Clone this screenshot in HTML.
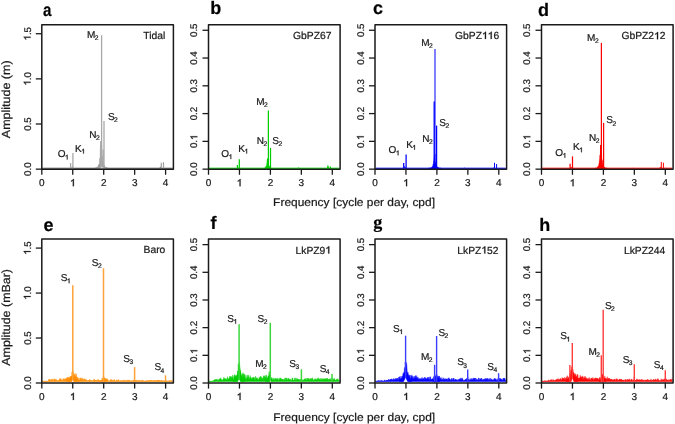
<!DOCTYPE html>
<html><head><meta charset="utf-8"><style>
html,body{margin:0;padding:0;background:#fff;}
body{width:675px;height:424px;overflow:hidden;}
svg{display:block;will-change:transform;}

</style></head><body>
<svg width="675" height="424" viewBox="0 0 675 424" font-family='"Liberation Sans", sans-serif' text-rendering="geometricPrecision">
<style>text{stroke:#1a1a1a;stroke-width:0.22px;} path.g1{stroke:#1a1a1a;stroke-width:0.22px;}</style>
<rect width="675" height="424" fill="#fff"/>
<path d="M42.40,168.40 L42.40,168.00 L42.90,168.00 L43.40,168.00 L43.90,168.00 L44.40,168.00 L44.90,168.00 L45.40,168.00 L45.90,168.00 L46.40,168.00 L46.90,168.00 L47.40,168.00 L47.90,168.00 L48.40,168.00 L48.90,168.00 L49.40,168.00 L49.90,168.00 L50.40,168.00 L50.90,168.00 L51.40,168.00 L51.90,168.00 L52.40,168.00 L52.90,168.00 L53.40,168.00 L53.90,168.00 L54.40,168.00 L54.90,168.00 L55.40,168.00 L55.90,168.00 L56.40,168.00 L56.90,168.00 L57.40,168.00 L57.90,168.00 L58.40,168.00 L58.90,168.00 L59.40,168.00 L59.90,168.00 L60.40,168.00 L60.90,168.00 L61.40,168.00 L61.90,168.00 L62.40,168.00 L62.90,168.00 L63.40,168.00 L63.90,168.00 L64.40,168.00 L64.90,168.00 L65.40,168.00 L65.90,168.00 L66.40,168.00 L66.90,168.00 L67.40,168.00 L67.90,168.00 L68.40,168.00 L68.90,168.00 L69.40,168.00 L69.90,168.00 L70.40,167.47 L70.90,168.00 L71.40,168.00 L71.90,167.80 L72.40,166.30 L72.90,168.00 L73.40,168.00 L73.90,168.00 L74.40,168.00 L74.90,168.00 L75.40,168.00 L75.90,168.00 L76.40,168.00 L76.90,168.00 L77.40,168.00 L77.90,168.00 L78.40,168.00 L78.90,168.00 L79.40,168.00 L79.90,168.00 L80.40,168.00 L80.90,168.00 L81.40,168.00 L81.90,168.00 L82.40,168.00 L82.90,168.00 L83.40,168.00 L83.90,168.00 L84.40,168.00 L84.90,168.00 L85.40,168.00 L85.90,168.00 L86.40,168.00 L86.90,168.00 L87.40,168.00 L87.90,168.00 L88.40,168.00 L88.90,168.00 L89.40,168.00 L89.90,168.00 L90.40,168.00 L90.90,168.00 L91.40,168.00 L91.90,168.00 L92.40,168.00 L92.90,168.00 L93.40,168.00 L93.90,168.00 L94.40,168.00 L94.90,168.00 L95.40,168.00 L95.90,168.00 L96.40,168.00 L96.90,168.00 L97.40,168.00 L97.90,168.00 L98.40,168.00 L98.90,168.00 L99.40,168.00 L99.90,168.00 L100.40,168.00 L100.90,168.00 L101.40,168.00 L101.90,168.00 L102.40,168.00 L102.90,168.00 L103.40,168.00 L103.90,168.00 L104.40,168.00 L104.90,168.00 L105.40,168.00 L105.90,168.00 L106.40,168.00 L106.90,168.00 L107.40,168.00 L107.90,168.00 L108.40,168.00 L108.90,168.00 L109.40,168.00 L109.90,168.00 L110.40,168.00 L110.90,168.00 L111.40,168.00 L111.90,168.00 L112.40,168.00 L112.90,168.00 L113.40,168.00 L113.90,168.00 L114.40,168.00 L114.90,168.00 L115.40,168.00 L115.90,168.00 L116.40,168.00 L116.90,168.00 L117.40,168.00 L117.90,168.00 L118.40,168.00 L118.90,168.00 L119.40,168.00 L119.90,168.00 L120.40,168.00 L120.90,168.00 L121.40,168.00 L121.90,168.00 L122.40,168.00 L122.90,168.00 L123.40,168.00 L123.90,168.00 L124.40,168.00 L124.90,168.00 L125.40,168.00 L125.90,168.00 L126.40,168.00 L126.90,168.00 L127.40,168.00 L127.90,168.00 L128.40,168.00 L128.90,168.00 L129.40,168.00 L129.90,168.00 L130.40,168.00 L130.90,168.00 L131.40,168.00 L131.90,168.00 L132.40,168.00 L132.90,168.00 L133.40,168.00 L133.90,168.00 L134.40,168.00 L134.90,168.00 L135.40,168.00 L135.90,168.00 L136.40,168.00 L136.90,168.00 L137.40,168.00 L137.90,168.00 L138.40,168.00 L138.90,168.00 L139.40,168.00 L139.90,168.00 L140.40,168.00 L140.90,168.00 L141.40,168.00 L141.90,168.00 L142.40,168.00 L142.90,168.00 L143.40,168.00 L143.90,168.00 L144.40,168.00 L144.90,168.00 L145.40,168.00 L145.90,168.00 L146.40,168.00 L146.90,168.00 L147.40,168.00 L147.90,168.00 L148.40,168.00 L148.90,168.00 L149.40,168.00 L149.90,168.00 L150.40,168.00 L150.90,168.00 L151.40,168.00 L151.90,168.00 L152.40,168.00 L152.90,168.00 L153.40,168.00 L153.90,168.00 L154.40,168.00 L154.90,168.00 L155.40,168.00 L155.90,168.00 L156.40,168.00 L156.90,168.00 L157.40,168.00 L157.90,168.00 L158.40,168.00 L158.90,168.00 L159.40,168.00 L159.90,168.00 L160.40,166.79 L160.90,167.88 L161.40,168.00 L161.90,168.00 L162.40,168.00 L162.90,168.00 L163.40,168.00 L163.90,168.00 L164.40,168.00 L164.90,168.00 L165.40,168.00 L165.90,168.00 L166.40,168.00 L166.90,168.00 L167.40,168.00 L167.90,168.00 L168.40,168.00 L168.90,168.00 L169.40,168.00 L169.90,168.00 L170.40,168.00 L170.90,168.00 L171.40,168.00 L171.90,168.00 L172.40,168.00 L172.40,168.40 Z" fill="#6e6e6e" stroke="#6e6e6e" stroke-width="0.6" stroke-linejoin="round" opacity="1.0"/>
<path d="M95.00,168.40 L95.00,167.95 L95.25,167.95 L95.50,167.95 L95.75,167.95 L96.00,167.95 L96.25,167.95 L96.50,167.95 L96.75,167.67 L97.00,167.63 L97.25,167.58 L97.50,167.48 L97.75,167.25 L98.00,167.58 L98.25,167.14 L98.50,167.28 L98.75,166.21 L99.00,167.08 L99.25,165.81 L99.50,166.70 L99.75,165.48 L100.00,165.84 L100.25,165.50 L100.50,164.41 L100.75,165.93 L101.00,165.73 L101.25,164.68 L101.50,164.65 L101.75,164.68 L102.00,163.86 L102.25,164.90 L102.50,165.93 L102.75,164.38 L103.00,164.75 L103.25,166.44 L103.50,166.15 L103.75,166.80 L104.00,166.74 L104.25,166.56 L104.50,167.28 L104.75,166.88 L105.00,167.67 L105.25,167.68 L105.50,167.27 L105.75,167.73 L106.00,167.82 L106.25,167.81 L106.50,167.95 L106.75,167.95 L107.00,167.95 L107.25,167.95 L107.50,167.95 L107.75,167.95 L108.00,167.95 L108.00,168.40 Z" fill="#8c8c8c" stroke="#8c8c8c" stroke-width="0.4" stroke-linejoin="round"/>
<path d="M96.30,168.40 L96.30,167.83 L96.55,167.61 L96.80,167.14 L97.05,167.34 L97.30,167.08 L97.55,166.73 L97.80,166.93 L98.05,166.13 L98.30,165.47 L98.55,164.54 L98.80,165.39 L99.05,164.11 L99.30,163.81 L99.55,159.75 L99.80,158.19 L100.05,159.61 L100.30,150.07 L100.55,145.81 L100.80,144.69 L101.05,143.37 L101.30,142.15 L101.55,143.37 L101.80,145.13 L102.05,153.45 L102.30,157.50 L102.55,156.60 L102.80,161.36 L103.05,162.27 L103.30,163.31 L103.55,164.87 L103.80,164.52 L104.05,165.25 L104.30,165.10 L104.55,166.12 L104.80,166.33 L105.05,166.83 L105.30,166.92 L105.55,167.35 L105.80,167.68 L106.05,167.28 L106.30,167.46 L106.30,168.40 Z" fill="#9a9a9a" stroke="#9a9a9a" stroke-width="0.4" stroke-linejoin="round"/>
<line x1="70.60" y1="168.75" x2="70.60" y2="163.00" stroke="#a8a8a8" stroke-width="1.3" stroke-opacity="1.0"/>
<line x1="72.90" y1="168.75" x2="72.90" y2="153.10" stroke="#a8a8a8" stroke-width="1.3" stroke-opacity="1.0"/>
<line x1="100.80" y1="168.75" x2="100.80" y2="141.00" stroke="#a8a8a8" stroke-width="1.3" stroke-opacity="1.0"/>
<line x1="101.60" y1="168.75" x2="101.60" y2="35.20" stroke="#a8a8a8" stroke-width="1.3" stroke-opacity="1.0"/>
<line x1="104.00" y1="168.75" x2="104.00" y2="121.10" stroke="#a8a8a8" stroke-width="1.3" stroke-opacity="1.0"/>
<line x1="103.20" y1="168.75" x2="103.20" y2="149.50" stroke="#a8a8a8" stroke-width="1.3" stroke-opacity="1.0"/>
<path d="M101.20,168.25 L101.90,166.30 L102.60,168.25 Z" fill="#fff" opacity="0.9"/>
<line x1="161.30" y1="168.75" x2="161.30" y2="162.80" stroke="#a0a0a0" stroke-width="1.2" stroke-opacity="1.0"/>
<line x1="163.50" y1="168.75" x2="163.50" y2="162.20" stroke="#a0a0a0" stroke-width="1.2" stroke-opacity="1.0"/>
<path d="M209.10,168.40 L209.10,168.00 L209.60,168.00 L210.10,168.00 L210.60,168.00 L211.10,168.00 L211.60,168.00 L212.10,168.00 L212.60,168.00 L213.10,168.00 L213.60,168.00 L214.10,168.00 L214.60,168.00 L215.10,168.00 L215.60,168.00 L216.10,168.00 L216.60,168.00 L217.10,168.00 L217.60,168.00 L218.10,168.00 L218.60,168.00 L219.10,168.00 L219.60,168.00 L220.10,168.00 L220.60,168.00 L221.10,168.00 L221.60,168.00 L222.10,168.00 L222.60,168.00 L223.10,168.00 L223.60,168.00 L224.10,168.00 L224.60,168.00 L225.10,168.00 L225.60,168.00 L226.10,168.00 L226.60,168.00 L227.10,168.00 L227.60,168.00 L228.10,168.00 L228.60,168.00 L229.10,168.00 L229.60,168.00 L230.10,168.00 L230.60,168.00 L231.10,168.00 L231.60,168.00 L232.10,168.00 L232.60,168.00 L233.10,168.00 L233.60,168.00 L234.10,168.00 L234.60,168.00 L235.10,168.00 L235.60,168.00 L236.10,168.00 L236.60,168.00 L237.10,168.00 L237.60,168.00 L238.10,168.00 L238.60,167.73 L239.10,168.00 L239.60,168.00 L240.10,168.00 L240.60,168.00 L241.10,168.00 L241.60,168.00 L242.10,168.00 L242.60,168.00 L243.10,168.00 L243.60,168.00 L244.10,168.00 L244.60,168.00 L245.10,168.00 L245.60,168.00 L246.10,168.00 L246.60,168.00 L247.10,168.00 L247.60,168.00 L248.10,168.00 L248.60,168.00 L249.10,168.00 L249.60,168.00 L250.10,168.00 L250.60,168.00 L251.10,168.00 L251.60,168.00 L252.10,168.00 L252.60,168.00 L253.10,168.00 L253.60,168.00 L254.10,168.00 L254.60,168.00 L255.10,168.00 L255.60,168.00 L256.10,168.00 L256.60,168.00 L257.10,168.00 L257.60,168.00 L258.10,168.00 L258.60,168.00 L259.10,168.00 L259.60,168.00 L260.10,168.00 L260.60,168.00 L261.10,168.00 L261.60,168.00 L262.10,168.00 L262.60,168.00 L263.10,168.00 L263.60,168.00 L264.10,168.00 L264.60,168.00 L265.10,168.00 L265.60,168.00 L266.10,168.00 L266.60,168.00 L267.10,168.00 L267.60,168.00 L268.10,168.00 L268.60,168.00 L269.10,168.00 L269.60,168.00 L270.10,168.00 L270.60,168.00 L271.10,168.00 L271.60,168.00 L272.10,168.00 L272.60,168.00 L273.10,168.00 L273.60,168.00 L274.10,168.00 L274.60,168.00 L275.10,168.00 L275.60,168.00 L276.10,168.00 L276.60,168.00 L277.10,168.00 L277.60,168.00 L278.10,168.00 L278.60,168.00 L279.10,168.00 L279.60,168.00 L280.10,168.00 L280.60,168.00 L281.10,168.00 L281.60,168.00 L282.10,168.00 L282.60,168.00 L283.10,168.00 L283.60,168.00 L284.10,168.00 L284.60,168.00 L285.10,168.00 L285.60,168.00 L286.10,168.00 L286.60,168.00 L287.10,168.00 L287.60,168.00 L288.10,168.00 L288.60,168.00 L289.10,168.00 L289.60,168.00 L290.10,168.00 L290.60,168.00 L291.10,168.00 L291.60,168.00 L292.10,168.00 L292.60,168.00 L293.10,168.00 L293.60,168.00 L294.10,168.00 L294.60,168.00 L295.10,168.00 L295.60,168.00 L296.10,168.00 L296.60,168.00 L297.10,168.00 L297.60,168.00 L298.10,168.00 L298.60,167.48 L299.10,168.00 L299.60,168.00 L300.10,168.00 L300.60,168.00 L301.10,168.00 L301.60,168.00 L302.10,168.00 L302.60,168.00 L303.10,168.00 L303.60,168.00 L304.10,168.00 L304.60,168.00 L305.10,168.00 L305.60,168.00 L306.10,168.00 L306.60,168.00 L307.10,168.00 L307.60,168.00 L308.10,168.00 L308.60,168.00 L309.10,168.00 L309.60,168.00 L310.10,168.00 L310.60,168.00 L311.10,168.00 L311.60,168.00 L312.10,168.00 L312.60,168.00 L313.10,168.00 L313.60,168.00 L314.10,168.00 L314.60,168.00 L315.10,168.00 L315.60,168.00 L316.10,168.00 L316.60,168.00 L317.10,168.00 L317.60,168.00 L318.10,168.00 L318.60,168.00 L319.10,168.00 L319.60,168.00 L320.10,168.00 L320.60,168.00 L321.10,168.00 L321.60,168.00 L322.10,168.00 L322.60,168.00 L323.10,168.00 L323.60,168.00 L324.10,168.00 L324.60,168.00 L325.10,168.00 L325.60,168.00 L326.10,168.00 L326.60,168.00 L327.10,168.00 L327.60,167.41 L328.10,166.70 L328.60,168.00 L329.10,168.00 L329.60,168.00 L330.10,168.00 L330.60,167.98 L331.10,168.00 L331.60,168.00 L332.10,168.00 L332.60,168.00 L333.10,168.00 L333.60,168.00 L334.10,168.00 L334.60,168.00 L335.10,168.00 L335.60,168.00 L336.10,168.00 L336.60,168.00 L337.10,168.00 L337.60,168.00 L338.10,168.00 L338.60,168.00 L339.10,168.00 L339.10,168.40 Z" fill="#00cd00" stroke="#00cd00" stroke-width="0.6" stroke-linejoin="round" opacity="1.0"/>
<path d="M264.10,168.40 L264.10,167.95 L264.35,167.95 L264.60,167.95 L264.85,167.94 L265.10,167.91 L265.35,167.16 L265.60,166.73 L265.85,166.55 L266.10,165.91 L266.35,165.59 L266.60,165.20 L266.85,162.86 L267.10,160.39 L267.35,159.27 L267.60,158.65 L267.85,159.27 L268.10,162.56 L268.35,161.44 L268.60,164.60 L268.85,165.60 L269.10,166.66 L269.35,165.92 L269.60,166.80 L269.85,167.09 L270.10,167.62 L270.35,167.95 L270.60,167.95 L270.85,167.95 L271.10,167.95 L271.10,168.40 Z" fill="#00cd00" stroke="#00cd00" stroke-width="0.4" stroke-linejoin="round"/>
<line x1="237.40" y1="168.75" x2="237.40" y2="165.00" stroke="#00cd00" stroke-width="1.25" stroke-opacity="1.0"/>
<line x1="239.30" y1="168.75" x2="239.30" y2="159.20" stroke="#00cd00" stroke-width="1.25" stroke-opacity="1.0"/>
<line x1="267.60" y1="168.75" x2="267.60" y2="158.70" stroke="#00cd00" stroke-width="1.25" stroke-opacity="1.0"/>
<line x1="268.40" y1="168.75" x2="268.40" y2="110.50" stroke="#00cd00" stroke-width="1.25" stroke-opacity="1.0"/>
<line x1="270.50" y1="168.75" x2="270.50" y2="147.90" stroke="#00cd00" stroke-width="1.25" stroke-opacity="1.0"/>
<line x1="327.90" y1="168.75" x2="327.90" y2="165.60" stroke="#00cd00" stroke-width="1.3" stroke-opacity="1.0"/>
<line x1="330.40" y1="168.75" x2="330.40" y2="166.40" stroke="#00cd00" stroke-width="1.2" stroke-opacity="1.0"/>
<path d="M375.60,168.40 L375.60,168.00 L376.10,168.00 L376.60,168.00 L377.10,168.00 L377.60,168.00 L378.10,168.00 L378.60,168.00 L379.10,168.00 L379.60,168.00 L380.10,168.00 L380.60,168.00 L381.10,168.00 L381.60,168.00 L382.10,168.00 L382.60,168.00 L383.10,168.00 L383.60,168.00 L384.10,168.00 L384.60,168.00 L385.10,168.00 L385.60,168.00 L386.10,168.00 L386.60,168.00 L387.10,168.00 L387.60,168.00 L388.10,168.00 L388.60,168.00 L389.10,168.00 L389.60,168.00 L390.10,168.00 L390.60,168.00 L391.10,168.00 L391.60,168.00 L392.10,168.00 L392.60,168.00 L393.10,168.00 L393.60,168.00 L394.10,168.00 L394.60,168.00 L395.10,168.00 L395.60,168.00 L396.10,168.00 L396.60,168.00 L397.10,168.00 L397.60,168.00 L398.10,168.00 L398.60,168.00 L399.10,168.00 L399.60,168.00 L400.10,168.00 L400.60,168.00 L401.10,168.00 L401.60,168.00 L402.10,168.00 L402.60,168.00 L403.10,168.00 L403.60,168.00 L404.10,168.00 L404.60,166.54 L405.10,167.23 L405.60,168.00 L406.10,168.00 L406.60,168.00 L407.10,168.00 L407.60,168.00 L408.10,168.00 L408.60,168.00 L409.10,168.00 L409.60,168.00 L410.10,168.00 L410.60,168.00 L411.10,168.00 L411.60,168.00 L412.10,168.00 L412.60,168.00 L413.10,168.00 L413.60,168.00 L414.10,168.00 L414.60,168.00 L415.10,168.00 L415.60,168.00 L416.10,168.00 L416.60,168.00 L417.10,168.00 L417.60,168.00 L418.10,168.00 L418.60,168.00 L419.10,168.00 L419.60,168.00 L420.10,168.00 L420.60,168.00 L421.10,168.00 L421.60,168.00 L422.10,168.00 L422.60,168.00 L423.10,168.00 L423.60,168.00 L424.10,168.00 L424.60,168.00 L425.10,168.00 L425.60,168.00 L426.10,168.00 L426.60,168.00 L427.10,168.00 L427.60,168.00 L428.10,168.00 L428.60,168.00 L429.10,168.00 L429.60,168.00 L430.10,168.00 L430.60,168.00 L431.10,168.00 L431.60,168.00 L432.10,168.00 L432.60,168.00 L433.10,168.00 L433.60,168.00 L434.10,168.00 L434.60,168.00 L435.10,168.00 L435.60,168.00 L436.10,168.00 L436.60,168.00 L437.10,168.00 L437.60,168.00 L438.10,168.00 L438.60,167.68 L439.10,168.00 L439.60,168.00 L440.10,168.00 L440.60,168.00 L441.10,168.00 L441.60,168.00 L442.10,168.00 L442.60,168.00 L443.10,168.00 L443.60,168.00 L444.10,168.00 L444.60,168.00 L445.10,168.00 L445.60,168.00 L446.10,168.00 L446.60,168.00 L447.10,168.00 L447.60,168.00 L448.10,168.00 L448.60,168.00 L449.10,168.00 L449.60,168.00 L450.10,168.00 L450.60,168.00 L451.10,168.00 L451.60,168.00 L452.10,168.00 L452.60,168.00 L453.10,168.00 L453.60,168.00 L454.10,168.00 L454.60,168.00 L455.10,168.00 L455.60,168.00 L456.10,168.00 L456.60,168.00 L457.10,168.00 L457.60,168.00 L458.10,168.00 L458.60,168.00 L459.10,168.00 L459.60,168.00 L460.10,168.00 L460.60,168.00 L461.10,168.00 L461.60,168.00 L462.10,168.00 L462.60,168.00 L463.10,168.00 L463.60,168.00 L464.10,168.00 L464.60,167.77 L465.10,168.00 L465.60,168.00 L466.10,168.00 L466.60,168.00 L467.10,168.00 L467.60,168.00 L468.10,168.00 L468.60,168.00 L469.10,168.00 L469.60,168.00 L470.10,168.00 L470.60,168.00 L471.10,168.00 L471.60,168.00 L472.10,168.00 L472.60,168.00 L473.10,168.00 L473.60,168.00 L474.10,168.00 L474.60,168.00 L475.10,168.00 L475.60,168.00 L476.10,168.00 L476.60,168.00 L477.10,168.00 L477.60,168.00 L478.10,168.00 L478.60,168.00 L479.10,168.00 L479.60,168.00 L480.10,168.00 L480.60,168.00 L481.10,168.00 L481.60,168.00 L482.10,168.00 L482.60,168.00 L483.10,168.00 L483.60,168.00 L484.10,168.00 L484.60,168.00 L485.10,168.00 L485.60,168.00 L486.10,168.00 L486.60,168.00 L487.10,168.00 L487.60,168.00 L488.10,168.00 L488.60,168.00 L489.10,168.00 L489.60,168.00 L490.10,168.00 L490.60,168.00 L491.10,168.00 L491.60,168.00 L492.10,168.00 L492.60,168.00 L493.10,168.00 L493.60,167.73 L494.10,168.00 L494.60,168.00 L495.10,168.00 L495.60,168.00 L496.10,168.00 L496.60,168.00 L497.10,168.00 L497.60,168.00 L498.10,168.00 L498.60,168.00 L499.10,168.00 L499.60,168.00 L500.10,168.00 L500.60,168.00 L501.10,168.00 L501.60,168.00 L502.10,168.00 L502.60,168.00 L503.10,168.00 L503.60,168.00 L504.10,168.00 L504.60,168.00 L505.10,168.00 L505.60,168.00 L505.60,168.40 Z" fill="#0000ff" stroke="#0000ff" stroke-width="0.6" stroke-linejoin="round" opacity="1.0"/>
<path d="M428.80,168.40 L428.80,167.95 L429.05,167.95 L429.30,167.95 L429.55,167.95 L429.80,167.95 L430.05,167.95 L430.30,167.95 L430.55,167.95 L430.80,167.93 L431.05,167.95 L431.30,167.63 L431.55,167.52 L431.80,167.75 L432.05,167.91 L432.30,167.10 L432.55,167.52 L432.80,167.49 L433.05,166.46 L433.30,166.07 L433.55,165.83 L433.80,165.41 L434.05,166.40 L434.30,166.48 L434.55,165.68 L434.80,165.65 L435.05,165.68 L435.30,166.41 L435.55,165.15 L435.80,166.69 L436.05,166.79 L436.30,167.15 L436.55,167.28 L436.80,167.46 L437.05,167.30 L437.30,167.64 L437.55,167.66 L437.80,167.33 L438.05,167.95 L438.30,167.71 L438.55,167.88 L438.80,167.95 L439.05,167.95 L439.30,167.95 L439.55,167.95 L439.80,167.95 L440.05,167.95 L440.30,167.95 L440.55,167.95 L440.80,167.95 L440.80,168.40 Z" fill="#0000ff" stroke="#0000ff" stroke-width="0.4" stroke-linejoin="round"/>
<path d="M430.60,168.40 L430.60,167.95 L430.85,167.95 L431.10,167.95 L431.35,167.78 L431.60,167.95 L431.85,167.95 L432.10,167.58 L432.35,166.42 L432.60,167.04 L432.85,165.12 L433.10,164.35 L433.35,165.08 L433.60,161.98 L433.85,160.52 L434.10,158.64 L434.35,155.97 L434.60,155.15 L434.85,155.97 L435.10,154.06 L435.35,162.74 L435.60,164.50 L435.85,162.00 L436.10,165.13 L436.35,166.43 L436.60,166.68 L436.85,167.06 L437.10,166.60 L437.35,167.85 L437.60,167.95 L437.85,167.87 L438.10,167.95 L438.35,167.93 L438.60,167.95 L438.60,168.40 Z" fill="#0000ff" stroke="#0000ff" stroke-width="0.4" stroke-linejoin="round"/>
<line x1="403.70" y1="168.75" x2="403.70" y2="162.90" stroke="#0000ff" stroke-width="1.25" stroke-opacity="1.0"/>
<line x1="406.10" y1="168.75" x2="406.10" y2="154.40" stroke="#0000ff" stroke-width="1.25" stroke-opacity="1.0"/>
<line x1="436.60" y1="168.75" x2="436.60" y2="125.60" stroke="#0000ff" stroke-width="1.25" stroke-opacity="1.0"/>
<line x1="434.20" y1="168.75" x2="434.20" y2="101.60" stroke="#0000ff" stroke-width="1.3" stroke-opacity="1.0"/>
<line x1="435.00" y1="168.75" x2="435.00" y2="49.00" stroke="#0000ff" stroke-width="1.0" stroke-opacity="1.0"/>
<line x1="494.50" y1="168.75" x2="494.50" y2="162.80" stroke="#0000ff" stroke-width="1.0" stroke-opacity="1.0"/>
<line x1="496.60" y1="168.75" x2="496.60" y2="164.00" stroke="#0000ff" stroke-width="1.0" stroke-opacity="1.0"/>
<path d="M542.10,168.40 L542.10,168.00 L542.60,168.00 L543.10,168.00 L543.60,168.00 L544.10,168.00 L544.60,168.00 L545.10,168.00 L545.60,168.00 L546.10,168.00 L546.60,168.00 L547.10,168.00 L547.60,168.00 L548.10,168.00 L548.60,168.00 L549.10,168.00 L549.60,168.00 L550.10,168.00 L550.60,168.00 L551.10,168.00 L551.60,168.00 L552.10,168.00 L552.60,168.00 L553.10,168.00 L553.60,168.00 L554.10,168.00 L554.60,168.00 L555.10,168.00 L555.60,168.00 L556.10,168.00 L556.60,168.00 L557.10,168.00 L557.60,168.00 L558.10,168.00 L558.60,168.00 L559.10,168.00 L559.60,168.00 L560.10,168.00 L560.60,168.00 L561.10,168.00 L561.60,168.00 L562.10,168.00 L562.60,168.00 L563.10,168.00 L563.60,168.00 L564.10,168.00 L564.60,168.00 L565.10,168.00 L565.60,168.00 L566.10,168.00 L566.60,168.00 L567.10,168.00 L567.60,168.00 L568.10,168.00 L568.60,168.00 L569.10,168.00 L569.60,168.00 L570.10,168.00 L570.60,168.00 L571.10,168.00 L571.60,166.99 L572.10,168.00 L572.60,168.00 L573.10,168.00 L573.60,168.00 L574.10,168.00 L574.60,168.00 L575.10,168.00 L575.60,168.00 L576.10,168.00 L576.60,168.00 L577.10,168.00 L577.60,168.00 L578.10,168.00 L578.60,168.00 L579.10,168.00 L579.60,168.00 L580.10,168.00 L580.60,168.00 L581.10,168.00 L581.60,168.00 L582.10,168.00 L582.60,168.00 L583.10,168.00 L583.60,168.00 L584.10,168.00 L584.60,168.00 L585.10,168.00 L585.60,168.00 L586.10,168.00 L586.60,168.00 L587.10,168.00 L587.60,168.00 L588.10,168.00 L588.60,168.00 L589.10,168.00 L589.60,168.00 L590.10,168.00 L590.60,168.00 L591.10,168.00 L591.60,168.00 L592.10,168.00 L592.60,168.00 L593.10,168.00 L593.60,168.00 L594.10,168.00 L594.60,168.00 L595.10,168.00 L595.60,168.00 L596.10,168.00 L596.60,168.00 L597.10,168.00 L597.60,168.00 L598.10,168.00 L598.60,168.00 L599.10,168.00 L599.60,168.00 L600.10,168.00 L600.60,168.00 L601.10,168.00 L601.60,168.00 L602.10,168.00 L602.60,168.00 L603.10,168.00 L603.60,168.00 L604.10,168.00 L604.60,168.00 L605.10,168.00 L605.60,168.00 L606.10,168.00 L606.60,168.00 L607.10,168.00 L607.60,168.00 L608.10,168.00 L608.60,168.00 L609.10,168.00 L609.60,168.00 L610.10,168.00 L610.60,168.00 L611.10,168.00 L611.60,168.00 L612.10,168.00 L612.60,168.00 L613.10,168.00 L613.60,168.00 L614.10,168.00 L614.60,168.00 L615.10,168.00 L615.60,168.00 L616.10,168.00 L616.60,168.00 L617.10,168.00 L617.60,168.00 L618.10,168.00 L618.60,168.00 L619.10,168.00 L619.60,168.00 L620.10,168.00 L620.60,168.00 L621.10,168.00 L621.60,168.00 L622.10,168.00 L622.60,168.00 L623.10,168.00 L623.60,168.00 L624.10,168.00 L624.60,168.00 L625.10,168.00 L625.60,168.00 L626.10,168.00 L626.60,168.00 L627.10,168.00 L627.60,168.00 L628.10,168.00 L628.60,168.00 L629.10,168.00 L629.60,168.00 L630.10,168.00 L630.60,168.00 L631.10,168.00 L631.60,168.00 L632.10,168.00 L632.60,168.00 L633.10,167.69 L633.60,168.00 L634.10,168.00 L634.60,168.00 L635.10,168.00 L635.60,168.00 L636.10,168.00 L636.60,168.00 L637.10,168.00 L637.60,168.00 L638.10,168.00 L638.60,168.00 L639.10,168.00 L639.60,168.00 L640.10,168.00 L640.60,168.00 L641.10,168.00 L641.60,168.00 L642.10,168.00 L642.60,168.00 L643.10,168.00 L643.60,168.00 L644.10,168.00 L644.60,168.00 L645.10,168.00 L645.60,168.00 L646.10,168.00 L646.60,168.00 L647.10,168.00 L647.60,168.00 L648.10,168.00 L648.60,168.00 L649.10,168.00 L649.60,168.00 L650.10,168.00 L650.60,168.00 L651.10,168.00 L651.60,168.00 L652.10,168.00 L652.60,168.00 L653.10,168.00 L653.60,168.00 L654.10,168.00 L654.60,168.00 L655.10,168.00 L655.60,168.00 L656.10,168.00 L656.60,168.00 L657.10,168.00 L657.60,168.00 L658.10,168.00 L658.60,168.00 L659.10,168.00 L659.60,167.82 L660.10,167.44 L660.60,167.04 L661.10,168.00 L661.60,168.00 L662.10,168.00 L662.60,168.00 L663.10,168.00 L663.60,168.00 L664.10,168.00 L664.60,168.00 L665.10,168.00 L665.60,167.80 L666.10,168.00 L666.60,168.00 L667.10,168.00 L667.60,168.00 L668.10,168.00 L668.60,168.00 L669.10,168.00 L669.60,168.00 L670.10,168.00 L670.60,168.00 L671.10,168.00 L671.60,168.00 L672.10,168.00 L672.10,168.40 Z" fill="#ff0000" stroke="#ff0000" stroke-width="0.6" stroke-linejoin="round" opacity="1.0"/>
<path d="M595.00,168.40 L595.00,167.95 L595.25,167.95 L595.50,167.95 L595.75,167.95 L596.00,167.95 L596.25,167.95 L596.50,167.95 L596.75,167.95 L597.00,167.95 L597.25,167.95 L597.50,167.95 L597.75,167.78 L598.00,167.95 L598.25,167.75 L598.50,167.20 L598.75,167.10 L599.00,167.26 L599.25,166.63 L599.50,166.12 L599.75,167.01 L600.00,165.63 L600.25,165.60 L600.50,166.04 L600.75,165.68 L601.00,165.65 L601.25,165.68 L601.50,166.36 L601.75,165.18 L602.00,166.35 L602.25,166.89 L602.50,167.05 L602.75,166.32 L603.00,166.84 L603.25,166.84 L603.50,167.12 L603.75,167.47 L604.00,167.29 L604.25,167.87 L604.50,167.87 L604.75,167.83 L605.00,167.95 L605.25,167.95 L605.50,167.95 L605.75,167.95 L606.00,167.95 L606.25,167.95 L606.50,167.95 L606.75,167.95 L607.00,167.95 L607.00,168.40 Z" fill="#ff0000" stroke="#ff0000" stroke-width="0.4" stroke-linejoin="round"/>
<path d="M596.80,168.40 L596.80,167.95 L597.05,167.95 L597.30,167.89 L597.55,166.71 L597.80,166.84 L598.05,166.25 L598.30,166.01 L598.55,165.81 L598.80,164.02 L599.05,163.39 L599.30,160.93 L599.55,159.37 L599.80,155.06 L600.05,154.99 L600.30,154.89 L600.55,146.70 L600.80,145.15 L601.05,146.70 L601.30,154.96 L601.55,152.06 L601.80,160.41 L602.05,159.41 L602.30,161.70 L602.55,165.37 L602.80,163.85 L603.05,166.71 L603.30,165.34 L603.55,165.98 L603.80,167.40 L604.05,166.96 L604.30,167.24 L604.55,167.95 L604.80,167.72 L604.80,168.40 Z" fill="#ff0000" stroke="#ff0000" stroke-width="0.4" stroke-linejoin="round"/>
<line x1="602.90" y1="168.75" x2="602.90" y2="160.40" stroke="#ff0000" stroke-width="1.0" stroke-opacity="1.0"/>
<line x1="570.10" y1="168.75" x2="570.10" y2="163.70" stroke="#ff0000" stroke-width="1.25" stroke-opacity="1.0"/>
<line x1="572.50" y1="168.75" x2="572.50" y2="156.40" stroke="#ff0000" stroke-width="1.25" stroke-opacity="1.0"/>
<line x1="600.60" y1="168.75" x2="600.60" y2="145.00" stroke="#ff0000" stroke-width="1.25" stroke-opacity="1.0"/>
<line x1="601.40" y1="168.75" x2="601.40" y2="42.90" stroke="#ff0000" stroke-width="1.25" stroke-opacity="1.0"/>
<line x1="603.60" y1="168.75" x2="603.60" y2="122.90" stroke="#ff0000" stroke-width="1.25" stroke-opacity="1.0"/>
<line x1="661.30" y1="168.75" x2="661.30" y2="161.90" stroke="#ff0000" stroke-width="1.0" stroke-opacity="1.0"/>
<line x1="663.40" y1="168.75" x2="663.40" y2="162.70" stroke="#ff0000" stroke-width="1.0" stroke-opacity="1.0"/>
<path d="M42.40,381.50 L42.40,381.10 L42.70,381.10 L43.00,381.10 L43.30,381.10 L43.60,381.10 L43.90,381.10 L44.20,381.10 L44.50,381.10 L44.80,381.10 L45.10,381.10 L45.40,381.10 L45.70,381.10 L46.00,381.10 L46.30,381.10 L46.60,381.10 L46.90,381.10 L47.20,381.10 L47.50,381.10 L47.80,381.10 L48.10,381.10 L48.40,381.10 L48.70,379.43 L49.00,380.88 L49.30,379.08 L49.60,381.10 L49.90,378.96 L50.20,381.10 L50.50,380.20 L50.80,381.10 L51.10,379.57 L51.40,381.10 L51.70,379.33 L52.00,381.10 L52.30,379.90 L52.60,381.10 L52.90,378.65 L53.20,380.69 L53.50,380.67 L53.80,381.10 L54.10,379.01 L54.40,381.10 L54.70,378.65 L55.00,380.58 L55.30,379.13 L55.60,381.10 L55.90,379.82 L56.20,381.10 L56.50,379.45 L56.80,380.67 L57.10,380.64 L57.40,381.10 L57.70,380.13 L58.00,380.59 L58.30,380.13 L58.60,381.06 L58.90,380.18 L59.20,381.10 L59.50,378.68 L59.80,380.50 L60.10,378.53 L60.40,381.08 L60.70,378.73 L61.00,380.71 L61.30,379.94 L61.60,381.10 L61.90,378.78 L62.20,380.67 L62.50,380.42 L62.80,380.46 L63.10,379.48 L63.40,381.10 L63.70,378.26 L64.00,381.10 L64.30,379.62 L64.60,380.40 L64.90,378.54 L65.20,380.86 L65.50,378.91 L65.80,381.10 L66.10,378.00 L66.40,379.87 L66.70,377.90 L67.00,380.44 L67.30,377.20 L67.60,379.73 L67.90,377.31 L68.20,379.48 L68.50,377.17 L68.80,379.50 L69.10,376.82 L69.40,379.18 L69.70,377.88 L70.00,378.77 L70.30,376.21 L70.60,378.06 L70.90,375.94 L71.20,380.32 L71.50,376.19 L71.80,378.54 L72.10,376.44 L72.40,378.57 L72.70,375.19 L73.00,378.55 L73.30,375.35 L73.60,379.32 L73.90,374.91 L74.20,378.36 L74.50,374.36 L74.80,378.80 L75.10,373.28 L75.40,377.60 L75.70,376.10 L76.00,378.18 L76.30,373.84 L76.60,379.11 L76.90,376.78 L77.20,379.57 L77.50,377.44 L77.80,379.96 L78.10,377.50 L78.40,380.30 L78.70,379.55 L79.00,380.37 L79.30,379.98 L79.60,381.05 L79.90,377.80 L80.20,381.10 L80.50,377.78 L80.80,380.87 L81.10,378.94 L81.40,381.10 L81.70,377.97 L82.00,381.08 L82.30,377.79 L82.60,380.97 L82.90,380.24 L83.20,381.10 L83.50,379.31 L83.80,380.74 L84.10,378.58 L84.40,381.00 L84.70,378.92 L85.00,381.10 L85.30,380.22 L85.60,380.87 L85.90,378.80 L86.20,380.84 L86.50,379.94 L86.80,381.10 L87.10,380.42 L87.40,380.91 L87.70,380.40 L88.00,380.59 L88.30,380.05 L88.60,381.10 L88.90,380.25 L89.20,381.10 L89.50,379.21 L89.80,381.08 L90.10,380.40 L90.40,381.10 L90.70,380.20 L91.00,380.70 L91.30,380.14 L91.60,381.10 L91.90,380.75 L92.20,381.10 L92.50,380.50 L92.80,380.95 L93.10,380.92 L93.40,381.10 L93.70,379.54 L94.00,381.10 L94.30,379.00 L94.60,381.10 L94.90,380.03 L95.20,381.10 L95.50,380.04 L95.80,381.10 L96.10,379.81 L96.40,381.10 L96.70,380.44 L97.00,381.10 L97.30,380.25 L97.60,381.04 L97.90,379.33 L98.20,381.10 L98.50,379.57 L98.80,381.10 L99.10,380.92 L99.40,381.10 L99.70,380.08 L100.00,381.10 L100.30,380.22 L100.60,381.10 L100.90,380.36 L101.20,381.10 L101.50,379.99 L101.80,381.10 L102.10,378.21 L102.40,380.48 L102.70,378.79 L103.00,379.11 L103.30,378.60 L103.60,379.42 L103.90,377.54 L104.20,380.62 L104.50,377.93 L104.80,381.06 L105.10,379.38 L105.40,380.19 L105.70,378.01 L106.00,380.39 L106.30,378.86 L106.60,381.10 L106.90,378.61 L107.20,380.53 L107.50,378.88 L107.80,380.62 L108.10,380.50 L108.40,381.10 L108.70,380.54 L109.00,381.10 L109.30,380.68 L109.60,381.10 L109.90,380.81 L110.20,381.02 L110.50,379.25 L110.80,381.10 L111.10,380.11 L111.40,380.90 L111.70,379.32 L112.00,381.10 L112.30,380.19 L112.60,381.00 L112.90,380.32 L113.20,381.10 L113.50,380.35 L113.80,381.10 L114.10,379.67 L114.40,381.10 L114.70,379.51 L115.00,381.10 L115.30,381.05 L115.60,381.10 L115.90,381.02 L116.20,381.10 L116.50,380.05 L116.80,381.10 L117.10,379.64 L117.40,381.10 L117.70,381.04 L118.00,381.10 L118.30,379.61 L118.60,381.10 L118.90,379.78 L119.20,381.10 L119.50,381.00 L119.80,381.10 L120.10,380.88 L120.40,381.10 L120.70,380.28 L121.00,381.10 L121.30,380.78 L121.60,381.10 L121.90,380.58 L122.20,381.10 L122.50,380.07 L122.80,381.10 L123.10,381.10 L123.40,381.10 L123.70,379.92 L124.00,381.10 L124.30,380.56 L124.60,381.10 L124.90,380.03 L125.20,381.10 L125.50,380.85 L125.80,381.10 L126.10,381.01 L126.40,381.10 L126.70,379.92 L127.00,381.10 L127.30,380.19 L127.60,381.10 L127.90,380.49 L128.20,381.10 L128.50,379.86 L128.80,381.10 L129.10,380.51 L129.40,381.10 L129.70,380.03 L130.00,381.10 L130.30,380.84 L130.60,381.10 L130.90,380.95 L131.20,381.10 L131.50,380.44 L131.80,381.10 L132.10,381.04 L132.40,381.10 L132.70,380.55 L133.00,381.10 L133.30,379.84 L133.60,381.10 L133.90,381.10 L134.20,381.10 L134.50,380.36 L134.80,381.10 L135.10,381.10 L135.40,381.10 L135.70,380.05 L136.00,381.10 L136.30,380.05 L136.60,381.10 L136.90,380.13 L137.20,381.10 L137.50,381.10 L137.80,381.10 L138.10,380.03 L138.40,381.10 L138.70,380.70 L139.00,381.10 L139.30,380.14 L139.60,381.10 L139.90,380.77 L140.20,381.10 L140.50,380.60 L140.80,381.10 L141.10,380.99 L141.40,381.10 L141.70,380.05 L142.00,381.10 L142.30,380.43 L142.60,381.10 L142.90,380.08 L143.20,381.10 L143.50,380.85 L143.80,381.10 L144.10,381.10 L144.40,381.10 L144.70,381.10 L145.00,381.10 L145.30,381.10 L145.60,381.10 L145.90,380.47 L146.20,381.10 L146.50,380.59 L146.80,381.10 L147.10,380.84 L147.40,381.10 L147.70,380.24 L148.00,381.10 L148.30,381.05 L148.60,381.10 L148.90,380.13 L149.20,381.10 L149.50,380.57 L149.80,381.10 L150.10,380.47 L150.40,381.10 L150.70,380.07 L151.00,381.10 L151.30,380.26 L151.60,381.10 L151.90,380.87 L152.20,381.10 L152.50,381.10 L152.80,381.10 L153.10,380.02 L153.40,381.10 L153.70,380.55 L154.00,381.10 L154.30,380.10 L154.60,381.10 L154.90,380.84 L155.20,381.10 L155.50,380.49 L155.80,381.10 L156.10,380.25 L156.40,381.10 L156.70,380.44 L157.00,381.10 L157.30,380.02 L157.60,381.10 L157.90,380.36 L158.20,381.10 L158.50,380.03 L158.80,381.10 L159.10,380.11 L159.40,381.10 L159.70,380.25 L160.00,381.10 L160.30,380.68 L160.60,381.10 L160.90,380.43 L161.20,381.10 L161.50,379.99 L161.80,381.10 L162.10,381.10 L162.40,381.10 L162.70,380.61 L163.00,381.10 L163.30,380.48 L163.60,381.10 L163.90,380.81 L164.20,381.10 L164.50,380.96 L164.80,381.10 L165.10,381.05 L165.40,381.10 L165.70,380.60 L166.00,381.10 L166.30,380.47 L166.60,381.10 L166.90,380.64 L167.20,381.10 L167.50,381.00 L167.80,381.10 L168.10,380.81 L168.40,381.10 L168.70,381.10 L169.00,381.10 L169.30,380.54 L169.60,381.10 L169.90,380.35 L170.20,381.10 L170.50,381.10 L170.80,381.10 L171.10,380.32 L171.40,381.10 L171.70,380.46 L172.00,381.10 L172.30,381.10 L172.60,381.10 L172.60,381.50 Z" fill="#ff8c00" stroke="#ff8c00" stroke-width="0.45" stroke-linejoin="round" opacity="1.0"/>
<path d="M66.70,381.50 L66.70,381.20 L66.95,381.20 L67.20,381.20 L67.45,381.20 L67.70,381.20 L67.95,381.20 L68.20,381.20 L68.45,381.20 L68.70,381.20 L68.95,381.20 L69.20,381.20 L69.45,381.16 L69.70,380.94 L69.95,380.88 L70.20,379.68 L70.45,380.02 L70.70,378.39 L70.95,377.77 L71.20,378.90 L71.45,377.29 L71.70,375.23 L71.95,372.15 L72.20,373.87 L72.45,370.95 L72.70,370.50 L72.95,370.95 L73.20,371.48 L73.45,374.24 L73.70,374.03 L73.95,375.12 L74.20,376.94 L74.45,379.24 L74.70,378.80 L74.95,379.97 L75.20,379.89 L75.45,380.75 L75.70,380.62 L75.95,380.86 L76.20,381.20 L76.45,381.20 L76.70,381.20 L76.95,381.20 L77.20,381.20 L77.45,381.20 L77.70,381.20 L77.95,381.20 L78.20,381.20 L78.45,381.20 L78.70,381.20 L78.70,381.50 Z" fill="#ff8c00" stroke="#ff8c00" stroke-width="0.4" stroke-linejoin="round"/>
<path d="M100.60,381.50 L100.60,381.20 L100.85,381.20 L101.10,381.20 L101.35,381.20 L101.60,381.20 L101.85,381.20 L102.10,380.60 L102.35,380.88 L102.60,378.81 L102.85,378.77 L103.10,378.18 L103.35,376.04 L103.60,375.50 L103.85,376.04 L104.10,377.71 L104.35,378.28 L104.60,380.43 L104.85,380.58 L105.10,381.20 L105.35,381.20 L105.60,381.20 L105.85,381.20 L106.10,381.20 L106.35,381.20 L106.60,381.20 L106.60,381.50 Z" fill="#ff8c00" stroke="#ff8c00" stroke-width="0.4" stroke-linejoin="round"/>
<line x1="72.80" y1="382.60" x2="72.80" y2="285.30" stroke="#ffa237" stroke-width="1.5" stroke-opacity="1.0"/>
<line x1="103.50" y1="382.60" x2="103.50" y2="268.30" stroke="#ffa237" stroke-width="1.5" stroke-opacity="1.0"/>
<line x1="134.60" y1="382.60" x2="134.60" y2="367.10" stroke="#ffa237" stroke-width="1.5" stroke-opacity="1.0"/>
<line x1="165.50" y1="382.60" x2="165.50" y2="375.30" stroke="#ffa237" stroke-width="1.5" stroke-opacity="1.0"/>
<path d="M209.10,381.50 L209.10,381.10 L209.40,381.10 L209.70,381.10 L210.00,381.10 L210.30,381.10 L210.60,381.10 L210.90,381.10 L211.20,381.10 L211.50,381.10 L211.80,381.10 L212.10,381.10 L212.40,381.10 L212.70,381.10 L213.00,380.98 L213.30,381.10 L213.60,380.09 L213.90,381.10 L214.20,379.98 L214.50,381.10 L214.80,379.23 L215.10,381.10 L215.40,379.40 L215.70,381.10 L216.00,379.69 L216.30,380.58 L216.60,379.10 L216.90,380.85 L217.20,379.33 L217.50,380.35 L217.80,380.46 L218.10,380.81 L218.40,379.91 L218.70,381.10 L219.00,378.77 L219.30,381.10 L219.60,379.10 L219.90,381.10 L220.20,378.25 L220.50,380.25 L220.80,377.83 L221.10,381.10 L221.40,379.55 L221.70,380.53 L222.00,379.55 L222.30,380.84 L222.60,379.86 L222.90,381.10 L223.20,379.18 L223.50,380.76 L223.80,377.24 L224.10,379.91 L224.40,378.51 L224.70,380.60 L225.00,378.08 L225.30,380.44 L225.60,378.82 L225.90,380.59 L226.20,379.62 L226.50,380.77 L226.80,378.54 L227.10,380.86 L227.40,376.69 L227.70,380.44 L228.00,378.84 L228.30,379.25 L228.60,378.71 L228.90,379.24 L229.20,377.61 L229.50,379.96 L229.80,376.06 L230.10,380.23 L230.40,376.75 L230.70,379.38 L231.00,376.08 L231.30,379.92 L231.60,377.01 L231.90,379.78 L232.20,377.20 L232.50,378.41 L232.80,374.94 L233.10,380.41 L233.40,378.35 L233.70,380.20 L234.00,375.86 L234.30,377.97 L234.60,374.46 L234.90,377.80 L235.20,375.83 L235.50,378.11 L235.80,374.89 L236.10,378.84 L236.40,377.29 L236.70,379.59 L237.00,374.86 L237.30,379.42 L237.60,372.73 L237.90,377.61 L238.20,374.86 L238.50,377.53 L238.80,371.14 L239.10,379.29 L239.40,373.82 L239.70,376.35 L240.00,372.35 L240.30,376.98 L240.60,370.29 L240.90,376.09 L241.20,374.37 L241.50,377.99 L241.80,375.59 L242.10,379.52 L242.40,373.81 L242.70,379.05 L243.00,372.58 L243.30,379.33 L243.60,374.35 L243.90,377.86 L244.20,373.82 L244.50,378.72 L244.80,374.62 L245.10,379.48 L245.40,378.14 L245.70,378.53 L246.00,375.20 L246.30,379.64 L246.60,378.20 L246.90,380.26 L247.20,376.74 L247.50,379.38 L247.80,374.88 L248.10,380.54 L248.40,375.24 L248.70,380.30 L249.00,376.96 L249.30,380.17 L249.60,378.12 L249.90,378.65 L250.20,375.57 L250.50,380.22 L250.80,377.24 L251.10,379.55 L251.40,378.45 L251.70,380.01 L252.00,377.81 L252.30,378.73 L252.60,377.53 L252.90,379.35 L253.20,377.30 L253.50,380.10 L253.80,377.27 L254.10,380.56 L254.40,377.43 L254.70,380.79 L255.00,379.08 L255.30,380.69 L255.60,376.17 L255.90,380.88 L256.20,377.76 L256.50,380.50 L256.80,377.74 L257.10,380.38 L257.40,378.03 L257.70,379.25 L258.00,378.87 L258.30,380.76 L258.60,379.05 L258.90,380.92 L259.20,376.95 L259.50,379.70 L259.80,377.49 L260.10,380.48 L260.40,376.15 L260.70,379.54 L261.00,376.41 L261.30,380.58 L261.60,377.45 L261.90,379.18 L262.20,377.63 L262.50,379.51 L262.80,379.10 L263.10,380.91 L263.40,375.72 L263.70,380.86 L264.00,376.53 L264.30,379.93 L264.60,376.00 L264.90,380.78 L265.20,375.20 L265.50,380.54 L265.80,377.00 L266.10,380.40 L266.40,374.97 L266.70,379.93 L267.00,377.28 L267.30,379.52 L267.60,377.81 L267.90,380.66 L268.20,376.24 L268.50,379.42 L268.80,377.95 L269.10,379.56 L269.40,376.66 L269.70,380.32 L270.00,377.69 L270.30,380.05 L270.60,378.04 L270.90,379.94 L271.20,377.18 L271.50,379.93 L271.80,378.14 L272.10,380.96 L272.40,379.73 L272.70,380.00 L273.00,377.69 L273.30,381.10 L273.60,378.73 L273.90,379.92 L274.20,379.89 L274.50,381.10 L274.80,378.18 L275.10,380.61 L275.40,378.13 L275.70,380.22 L276.00,379.13 L276.30,379.90 L276.60,378.43 L276.90,380.12 L277.20,378.85 L277.50,381.10 L277.80,377.80 L278.10,380.39 L278.40,379.91 L278.70,381.10 L279.00,378.87 L279.30,381.10 L279.60,378.31 L279.90,381.10 L280.20,377.87 L280.50,380.15 L280.80,377.92 L281.10,380.24 L281.40,378.81 L281.70,381.10 L282.00,379.06 L282.30,380.32 L282.60,379.15 L282.90,380.07 L283.20,379.04 L283.50,381.10 L283.80,380.27 L284.10,381.10 L284.40,378.31 L284.70,381.10 L285.00,379.73 L285.30,380.94 L285.60,377.80 L285.90,380.96 L286.20,377.90 L286.50,380.82 L286.80,377.98 L287.10,380.27 L287.40,380.07 L287.70,381.10 L288.00,378.31 L288.30,380.51 L288.60,378.23 L288.90,380.47 L289.20,378.70 L289.50,380.24 L289.80,379.41 L290.10,380.71 L290.40,379.59 L290.70,380.20 L291.00,379.38 L291.30,380.45 L291.60,380.19 L291.90,380.53 L292.20,377.78 L292.50,380.78 L292.80,378.28 L293.10,381.10 L293.40,379.86 L293.70,381.10 L294.00,380.16 L294.30,380.47 L294.60,377.86 L294.90,380.63 L295.20,380.10 L295.50,380.98 L295.80,377.75 L296.10,381.10 L296.40,379.52 L296.70,380.98 L297.00,378.04 L297.30,380.65 L297.60,379.05 L297.90,381.10 L298.20,379.01 L298.50,380.80 L298.80,379.00 L299.10,381.10 L299.40,379.75 L299.70,381.07 L300.00,379.43 L300.30,380.04 L300.60,379.20 L300.90,381.10 L301.20,379.43 L301.50,380.64 L301.80,378.96 L302.10,381.10 L302.40,380.06 L302.70,380.72 L303.00,379.93 L303.30,381.10 L303.60,379.75 L303.90,380.94 L304.20,379.10 L304.50,380.45 L304.80,378.81 L305.10,380.78 L305.40,378.84 L305.70,381.10 L306.00,377.99 L306.30,380.22 L306.60,379.97 L306.90,380.56 L307.20,378.57 L307.50,381.10 L307.80,378.23 L308.10,380.92 L308.40,378.13 L308.70,381.10 L309.00,378.28 L309.30,381.10 L309.60,379.63 L309.90,380.48 L310.20,379.07 L310.50,381.04 L310.80,378.19 L311.10,381.10 L311.40,378.17 L311.70,380.99 L312.00,379.16 L312.30,380.64 L312.60,377.76 L312.90,380.42 L313.20,379.47 L313.50,380.66 L313.80,380.04 L314.10,380.17 L314.40,379.56 L314.70,381.10 L315.00,378.48 L315.30,380.98 L315.60,378.87 L315.90,380.17 L316.20,379.46 L316.50,381.06 L316.80,379.11 L317.10,381.10 L317.40,377.96 L317.70,380.51 L318.00,379.35 L318.30,380.84 L318.60,377.77 L318.90,380.61 L319.20,379.32 L319.50,380.56 L319.80,378.63 L320.10,380.75 L320.40,379.58 L320.70,380.16 L321.00,377.95 L321.30,381.10 L321.60,379.59 L321.90,380.61 L322.20,379.22 L322.50,380.61 L322.80,378.36 L323.10,381.10 L323.40,378.73 L323.70,380.11 L324.00,379.05 L324.30,381.10 L324.60,378.60 L324.90,381.10 L325.20,378.27 L325.50,381.10 L325.80,379.00 L326.10,380.80 L326.40,378.43 L326.70,381.10 L327.00,378.27 L327.30,381.10 L327.60,378.34 L327.90,380.99 L328.20,379.55 L328.50,380.39 L328.80,379.01 L329.10,381.10 L329.40,378.66 L329.70,380.77 L330.00,379.88 L330.30,380.73 L330.60,378.46 L330.90,380.57 L331.20,380.23 L331.50,380.25 L331.80,377.90 L332.10,380.51 L332.40,379.90 L332.70,381.10 L333.00,379.15 L333.30,381.02 L333.60,378.95 L333.90,380.38 L334.20,378.10 L334.50,380.71 L334.80,379.69 L335.10,381.10 L335.40,380.07 L335.70,381.10 L336.00,379.87 L336.30,380.63 L336.60,378.98 L336.90,380.78 L337.20,379.42 L337.50,380.23 L337.80,378.50 L338.10,380.52 L338.40,379.88 L338.70,381.10 L339.00,379.68 L339.30,381.10 L339.30,381.50 Z" fill="#00cd00" stroke="#00cd00" stroke-width="0.45" stroke-linejoin="round" opacity="1.0"/>
<path d="M233.00,381.50 L233.00,381.20 L233.25,381.20 L233.50,380.96 L233.75,381.20 L234.00,381.09 L234.25,380.48 L234.50,380.49 L234.75,380.41 L235.00,380.06 L235.25,379.86 L235.50,379.81 L235.75,378.42 L236.00,377.20 L236.25,376.99 L236.50,376.33 L236.75,376.44 L237.00,375.08 L237.25,375.27 L237.50,370.96 L237.75,371.91 L238.00,370.47 L238.25,363.66 L238.50,367.37 L238.75,365.05 L239.00,364.70 L239.25,365.05 L239.50,361.94 L239.75,366.49 L240.00,367.19 L240.25,369.86 L240.50,373.94 L240.75,372.59 L241.00,375.80 L241.25,376.19 L241.50,377.91 L241.75,378.72 L242.00,378.48 L242.25,379.75 L242.50,379.39 L242.75,378.97 L243.00,379.15 L243.25,380.32 L243.50,380.97 L243.75,380.88 L244.00,381.20 L244.25,381.20 L244.50,381.12 L244.75,381.20 L245.00,381.20 L245.00,381.50 Z" fill="#00cd00" stroke="#00cd00" stroke-width="0.4" stroke-linejoin="round"/>
<path d="M265.70,381.50 L265.70,381.20 L265.95,381.20 L266.20,381.20 L266.45,381.20 L266.70,381.20 L266.95,380.73 L267.20,380.87 L267.45,380.16 L267.70,380.06 L267.95,377.48 L268.20,375.85 L268.45,376.85 L268.70,375.54 L268.95,372.18 L269.20,371.50 L269.45,372.18 L269.70,373.93 L269.95,375.57 L270.20,376.46 L270.45,378.87 L270.70,379.30 L270.95,380.65 L271.20,381.03 L271.45,381.20 L271.70,381.20 L271.95,381.20 L272.20,381.20 L272.45,381.20 L272.70,381.20 L272.70,381.50 Z" fill="#00cd00" stroke="#00cd00" stroke-width="0.4" stroke-linejoin="round"/>
<line x1="239.10" y1="382.60" x2="239.10" y2="324.20" stroke="#3dd63d" stroke-width="1.5" stroke-opacity="1.0"/>
<line x1="270.30" y1="382.60" x2="270.30" y2="322.80" stroke="#3dd63d" stroke-width="1.5" stroke-opacity="1.0"/>
<line x1="301.40" y1="382.60" x2="301.40" y2="369.30" stroke="#3dd63d" stroke-width="1.5" stroke-opacity="1.0"/>
<line x1="332.00" y1="382.60" x2="332.00" y2="374.10" stroke="#3dd63d" stroke-width="1.5" stroke-opacity="1.0"/>
<path d="M375.60,381.50 L375.60,381.10 L375.90,381.10 L376.20,381.10 L376.50,381.10 L376.80,381.10 L377.10,380.82 L377.40,381.10 L377.70,381.10 L378.00,381.10 L378.30,380.16 L378.60,381.10 L378.90,380.81 L379.20,381.10 L379.50,381.10 L379.80,381.10 L380.10,380.16 L380.40,381.10 L380.70,381.10 L381.00,381.10 L381.30,380.94 L381.60,381.10 L381.90,379.92 L382.20,381.10 L382.50,380.96 L382.80,381.10 L383.10,380.95 L383.40,381.10 L383.70,380.99 L384.00,381.10 L384.30,380.18 L384.60,381.10 L384.90,379.83 L385.20,381.10 L385.50,381.04 L385.80,381.10 L386.10,380.35 L386.40,381.10 L386.70,380.05 L387.00,381.10 L387.30,380.35 L387.60,381.10 L387.90,379.91 L388.20,381.10 L388.50,379.27 L388.80,381.10 L389.10,379.46 L389.40,381.10 L389.70,380.28 L390.00,381.10 L390.30,379.16 L390.60,381.10 L390.90,378.98 L391.20,381.10 L391.50,378.76 L391.80,381.01 L392.10,379.07 L392.40,380.53 L392.70,380.04 L393.00,381.10 L393.30,378.84 L393.60,381.10 L393.90,378.38 L394.20,380.87 L394.50,379.19 L394.80,381.10 L395.10,379.43 L395.40,380.62 L395.70,378.21 L396.00,380.62 L396.30,378.77 L396.60,381.10 L396.90,378.02 L397.20,379.88 L397.50,378.10 L397.80,380.60 L398.10,379.57 L398.40,381.10 L398.70,377.21 L399.00,380.57 L399.30,377.06 L399.60,380.95 L399.90,376.36 L400.20,379.91 L400.50,379.06 L400.80,380.35 L401.10,376.02 L401.40,378.97 L401.70,377.95 L402.00,380.73 L402.30,378.82 L402.60,380.27 L402.90,376.05 L403.20,378.66 L403.50,375.37 L403.80,380.65 L404.10,377.12 L404.40,378.63 L404.70,376.46 L405.00,379.73 L405.30,378.03 L405.60,379.26 L405.90,375.92 L406.20,379.95 L406.50,375.66 L406.80,378.29 L407.10,375.54 L407.40,378.49 L407.70,377.41 L408.00,379.42 L408.30,374.41 L408.60,379.73 L408.90,375.89 L409.20,379.29 L409.50,375.17 L409.80,378.07 L410.10,374.85 L410.40,380.03 L410.70,377.82 L411.00,378.36 L411.30,375.85 L411.60,379.03 L411.90,374.83 L412.20,378.49 L412.50,376.26 L412.80,379.57 L413.10,378.23 L413.40,379.95 L413.70,376.42 L414.00,379.86 L414.30,377.72 L414.60,379.19 L414.90,375.92 L415.20,378.86 L415.50,375.46 L415.80,378.77 L416.10,377.26 L416.40,379.75 L416.70,375.60 L417.00,379.60 L417.30,377.82 L417.60,380.10 L417.90,376.99 L418.20,380.59 L418.50,378.73 L418.80,380.58 L419.10,377.95 L419.40,380.28 L419.70,379.19 L420.00,380.46 L420.30,378.46 L420.60,379.50 L420.90,378.64 L421.20,380.27 L421.50,378.39 L421.80,381.10 L422.10,377.25 L422.40,379.73 L422.70,379.26 L423.00,379.87 L423.30,378.33 L423.60,380.24 L423.90,378.33 L424.20,380.99 L424.50,377.05 L424.80,379.78 L425.10,378.44 L425.40,379.81 L425.70,377.46 L426.00,380.07 L426.30,378.45 L426.60,379.93 L426.90,378.58 L427.20,380.32 L427.50,377.39 L427.80,379.59 L428.10,377.39 L428.40,380.17 L428.70,377.39 L429.00,380.94 L429.30,379.38 L429.60,381.05 L429.90,376.77 L430.20,379.76 L430.50,376.73 L430.80,379.99 L431.10,379.32 L431.40,379.39 L431.70,379.06 L432.00,380.39 L432.30,378.32 L432.60,379.51 L432.90,379.07 L433.20,380.07 L433.50,376.57 L433.80,379.61 L434.10,379.31 L434.40,380.12 L434.70,379.25 L435.00,379.70 L435.30,375.70 L435.60,379.30 L435.90,376.18 L436.20,380.82 L436.50,376.92 L436.80,380.59 L437.10,377.88 L437.40,379.16 L437.70,375.62 L438.00,379.76 L438.30,376.50 L438.60,379.60 L438.90,375.96 L439.20,379.79 L439.50,376.20 L439.80,380.96 L440.10,377.36 L440.40,380.50 L440.70,378.27 L441.00,380.70 L441.30,379.41 L441.60,380.81 L441.90,377.45 L442.20,380.94 L442.50,379.20 L442.80,380.07 L443.10,379.36 L443.40,381.10 L443.70,377.80 L444.00,381.10 L444.30,378.66 L444.60,381.10 L444.90,379.32 L445.20,381.10 L445.50,378.66 L445.80,380.78 L446.10,378.63 L446.40,380.76 L446.70,378.92 L447.00,381.01 L447.30,378.64 L447.60,380.58 L447.90,379.48 L448.20,381.10 L448.50,377.87 L448.80,381.10 L449.10,377.81 L449.40,380.23 L449.70,378.96 L450.00,381.10 L450.30,379.71 L450.60,381.10 L450.90,379.41 L451.20,380.10 L451.50,378.37 L451.80,381.10 L452.10,378.39 L452.40,381.00 L452.70,380.29 L453.00,380.82 L453.30,378.03 L453.60,381.10 L453.90,378.09 L454.20,381.10 L454.50,380.25 L454.80,381.10 L455.10,379.15 L455.40,380.42 L455.70,379.01 L456.00,380.23 L456.30,379.54 L456.60,380.08 L456.90,380.01 L457.20,380.58 L457.50,380.22 L457.80,380.22 L458.10,379.07 L458.40,380.34 L458.70,380.03 L459.00,380.79 L459.30,378.67 L459.60,380.32 L459.90,379.16 L460.20,380.53 L460.50,378.33 L460.80,381.10 L461.10,377.86 L461.40,380.71 L461.70,379.08 L462.00,380.54 L462.30,377.89 L462.60,380.44 L462.90,379.33 L463.20,380.57 L463.50,380.19 L463.80,381.10 L464.10,380.17 L464.40,380.47 L464.70,379.92 L465.00,380.11 L465.30,379.35 L465.60,380.84 L465.90,378.99 L466.20,380.64 L466.50,378.28 L466.80,381.10 L467.10,378.87 L467.40,380.70 L467.70,376.52 L468.00,380.55 L468.30,378.98 L468.60,381.10 L468.90,379.32 L469.20,380.86 L469.50,380.10 L469.80,381.10 L470.10,378.43 L470.40,381.10 L470.70,379.44 L471.00,380.13 L471.30,379.46 L471.60,381.10 L471.90,378.05 L472.20,381.10 L472.50,379.32 L472.80,381.10 L473.10,378.74 L473.40,380.26 L473.70,377.87 L474.00,380.84 L474.30,378.11 L474.60,380.89 L474.90,378.20 L475.20,381.09 L475.50,377.97 L475.80,380.33 L476.10,380.11 L476.40,380.51 L476.70,378.60 L477.00,381.01 L477.30,379.58 L477.60,380.70 L477.90,379.65 L478.20,381.10 L478.50,377.93 L478.80,381.10 L479.10,378.26 L479.40,380.81 L479.70,379.98 L480.00,380.17 L480.30,378.64 L480.60,380.64 L480.90,378.59 L481.20,380.76 L481.50,378.00 L481.80,380.90 L482.10,378.90 L482.40,381.10 L482.70,380.26 L483.00,381.10 L483.30,379.44 L483.60,381.10 L483.90,378.93 L484.20,381.10 L484.50,379.09 L484.80,380.75 L485.10,378.34 L485.40,381.10 L485.70,378.62 L486.00,381.10 L486.30,378.62 L486.60,380.91 L486.90,378.39 L487.20,381.07 L487.50,378.29 L487.80,380.74 L488.10,378.66 L488.40,380.97 L488.70,379.57 L489.00,381.02 L489.30,378.29 L489.60,380.17 L489.90,380.13 L490.20,380.66 L490.50,378.30 L490.80,381.10 L491.10,379.60 L491.40,380.20 L491.70,378.75 L492.00,381.10 L492.30,380.31 L492.60,380.28 L492.90,379.47 L493.20,381.10 L493.50,379.63 L493.80,380.39 L494.10,378.74 L494.40,381.10 L494.70,378.17 L495.00,380.59 L495.30,378.58 L495.60,380.64 L495.90,378.92 L496.20,380.78 L496.50,380.30 L496.80,381.10 L497.10,378.63 L497.40,381.10 L497.70,380.14 L498.00,380.66 L498.30,378.44 L498.60,380.48 L498.90,379.28 L499.20,381.10 L499.50,378.31 L499.80,380.92 L500.10,378.56 L500.40,380.32 L500.70,378.35 L501.00,380.21 L501.30,379.05 L501.60,381.10 L501.90,379.44 L502.20,380.98 L502.50,379.90 L502.80,380.26 L503.10,378.30 L503.40,380.98 L503.70,378.05 L504.00,380.53 L504.30,377.95 L504.60,381.10 L504.90,378.38 L505.20,380.50 L505.50,379.84 L505.80,380.88 L505.80,381.50 Z" fill="#0000ff" stroke="#0000ff" stroke-width="0.45" stroke-linejoin="round" opacity="1.0"/>
<path d="M399.70,381.50 L399.70,380.69 L399.95,380.11 L400.20,380.78 L400.45,379.05 L400.70,379.00 L400.95,378.32 L401.20,379.41 L401.45,379.22 L401.70,379.21 L401.95,378.47 L402.20,378.52 L402.45,375.88 L402.70,376.30 L402.95,373.79 L403.20,373.03 L403.45,373.94 L403.70,373.95 L403.95,371.90 L404.20,372.88 L404.45,367.45 L404.70,369.75 L404.95,369.18 L405.20,361.94 L405.45,364.80 L405.70,364.60 L405.95,364.80 L406.20,365.92 L406.45,362.50 L406.70,363.56 L406.95,367.34 L407.20,371.42 L407.45,373.10 L407.70,373.52 L407.95,372.05 L408.20,374.12 L408.45,375.85 L408.70,377.55 L408.95,376.99 L409.20,377.43 L409.45,378.80 L409.70,378.74 L409.95,379.01 L410.20,379.10 L410.45,379.27 L410.70,379.44 L410.95,379.26 L411.20,380.36 L411.45,380.82 L411.70,380.71 L411.70,381.50 Z" fill="#0000ff" stroke="#0000ff" stroke-width="0.4" stroke-linejoin="round"/>
<path d="M432.90,381.50 L432.90,381.20 L433.15,381.20 L433.40,381.20 L433.65,381.20 L433.90,381.20 L434.15,381.20 L434.40,380.87 L434.65,380.44 L434.90,379.93 L435.15,378.41 L435.40,377.77 L435.65,377.40 L435.90,375.86 L436.15,374.06 L436.40,373.50 L436.65,374.06 L436.90,374.89 L437.15,376.34 L437.40,378.91 L437.65,378.72 L437.90,380.15 L438.15,380.34 L438.40,381.20 L438.65,381.20 L438.90,381.20 L439.15,381.20 L439.40,381.20 L439.65,381.20 L439.90,381.20 L439.90,381.50 Z" fill="#0000ff" stroke="#0000ff" stroke-width="0.4" stroke-linejoin="round"/>
<line x1="405.60" y1="382.60" x2="405.60" y2="335.70" stroke="#3d3dff" stroke-width="1.4" stroke-opacity="1.0"/>
<line x1="434.60" y1="382.60" x2="434.60" y2="364.80" stroke="#3d3dff" stroke-width="1.4" stroke-opacity="1.0"/>
<line x1="436.60" y1="382.60" x2="436.60" y2="336.00" stroke="#3d3dff" stroke-width="1.4" stroke-opacity="1.0"/>
<line x1="467.70" y1="382.60" x2="467.70" y2="369.60" stroke="#3d3dff" stroke-width="1.4" stroke-opacity="1.0"/>
<line x1="498.60" y1="382.60" x2="498.60" y2="373.20" stroke="#3d3dff" stroke-width="1.4" stroke-opacity="1.0"/>
<path d="M542.10,381.50 L542.10,381.10 L542.40,381.10 L542.70,381.10 L543.00,381.10 L543.30,381.10 L543.60,381.10 L543.90,381.10 L544.20,380.78 L544.50,381.10 L544.80,380.67 L545.10,381.10 L545.40,380.70 L545.70,381.10 L546.00,381.10 L546.30,381.10 L546.60,380.85 L546.90,381.10 L547.20,381.09 L547.50,381.10 L547.80,380.67 L548.10,381.10 L548.40,379.85 L548.70,381.10 L549.00,381.09 L549.30,381.10 L549.60,380.36 L549.90,381.10 L550.20,380.77 L550.50,381.10 L550.80,379.58 L551.10,381.10 L551.40,379.84 L551.70,381.10 L552.00,379.47 L552.30,381.10 L552.60,380.93 L552.90,381.10 L553.20,379.42 L553.50,381.10 L553.80,380.43 L554.10,381.10 L554.40,380.31 L554.70,380.80 L555.00,380.57 L555.30,381.10 L555.60,379.72 L555.90,381.10 L556.20,379.47 L556.50,381.10 L556.80,379.39 L557.10,381.10 L557.40,378.68 L557.70,381.10 L558.00,379.83 L558.30,381.10 L558.60,378.64 L558.90,380.91 L559.20,379.79 L559.50,380.89 L559.80,379.06 L560.10,381.10 L560.40,378.19 L560.70,380.70 L561.00,378.82 L561.30,380.07 L561.60,380.23 L561.90,381.10 L562.20,377.53 L562.50,380.27 L562.80,378.05 L563.10,381.10 L563.40,378.00 L563.70,381.10 L564.00,378.70 L564.30,380.58 L564.60,377.36 L564.90,380.57 L565.20,379.55 L565.50,379.92 L565.80,377.85 L566.10,380.34 L566.40,376.59 L566.70,380.05 L567.00,378.85 L567.30,379.30 L567.60,375.63 L567.90,379.72 L568.20,378.40 L568.50,378.76 L568.80,376.80 L569.10,379.95 L569.40,377.47 L569.70,378.40 L570.00,373.83 L570.30,377.77 L570.60,375.12 L570.90,377.37 L571.20,376.84 L571.50,378.45 L571.80,373.62 L572.10,377.10 L572.40,373.83 L572.70,377.89 L573.00,373.07 L573.30,378.80 L573.60,372.09 L573.90,376.45 L574.20,373.19 L574.50,378.83 L574.80,374.63 L575.10,377.81 L575.40,373.73 L575.70,377.66 L576.00,375.46 L576.30,379.03 L576.60,376.27 L576.90,378.17 L577.20,374.16 L577.50,379.85 L577.80,374.60 L578.10,380.01 L578.40,377.82 L578.70,379.52 L579.00,377.94 L579.30,379.78 L579.60,377.76 L579.90,378.98 L580.20,375.22 L580.50,379.47 L580.80,376.55 L581.10,379.12 L581.40,376.75 L581.70,379.45 L582.00,376.88 L582.30,378.95 L582.60,375.86 L582.90,379.50 L583.20,378.98 L583.50,379.18 L583.80,376.84 L584.10,380.80 L584.40,377.73 L584.70,379.73 L585.00,376.07 L585.30,379.39 L585.60,377.79 L585.90,379.51 L586.20,377.47 L586.50,380.00 L586.80,378.80 L587.10,380.50 L587.40,378.86 L587.70,380.99 L588.00,377.99 L588.30,380.94 L588.60,379.18 L588.90,380.51 L589.20,377.38 L589.50,380.79 L589.80,379.50 L590.10,381.10 L590.40,379.81 L590.70,380.08 L591.00,378.07 L591.30,380.77 L591.60,377.94 L591.90,380.52 L592.20,378.66 L592.50,379.64 L592.80,377.46 L593.10,380.63 L593.40,379.54 L593.70,381.10 L594.00,377.93 L594.30,380.29 L594.60,378.99 L594.90,380.35 L595.20,377.91 L595.50,380.16 L595.80,377.72 L596.10,380.70 L596.40,378.03 L596.70,380.80 L597.00,378.40 L597.30,381.10 L597.60,378.04 L597.90,379.69 L598.20,378.69 L598.50,380.79 L598.80,379.31 L599.10,379.89 L599.40,377.78 L599.70,380.97 L600.00,376.95 L600.30,379.41 L600.60,378.71 L600.90,379.94 L601.20,379.13 L601.50,380.91 L601.80,378.94 L602.10,380.77 L602.40,376.77 L602.70,379.71 L603.00,375.72 L603.30,380.86 L603.60,377.51 L603.90,378.82 L604.20,378.09 L604.50,379.46 L604.80,375.92 L605.10,380.03 L605.40,378.10 L605.70,379.20 L606.00,378.18 L606.30,380.89 L606.60,378.97 L606.90,379.30 L607.20,376.74 L607.50,380.44 L607.80,378.71 L608.10,380.64 L608.40,378.21 L608.70,379.90 L609.00,378.19 L609.30,380.90 L609.60,378.18 L609.90,380.03 L610.20,379.21 L610.50,380.72 L610.80,378.97 L611.10,380.71 L611.40,379.01 L611.70,380.79 L612.00,379.72 L612.30,381.10 L612.60,379.57 L612.90,381.10 L613.20,380.29 L613.50,381.10 L613.80,379.15 L614.10,381.10 L614.40,379.44 L614.70,380.51 L615.00,378.80 L615.30,380.73 L615.60,380.21 L615.90,380.40 L616.20,379.31 L616.50,380.93 L616.80,378.43 L617.10,381.10 L617.40,379.12 L617.70,380.51 L618.00,380.62 L618.30,381.10 L618.60,379.74 L618.90,380.43 L619.20,379.40 L619.50,380.55 L619.80,378.85 L620.10,380.81 L620.40,379.03 L620.70,381.10 L621.00,379.64 L621.30,381.10 L621.60,378.96 L621.90,381.10 L622.20,379.85 L622.50,381.10 L622.80,380.02 L623.10,381.10 L623.40,379.82 L623.70,381.10 L624.00,380.35 L624.30,380.87 L624.60,380.39 L624.90,380.93 L625.20,379.28 L625.50,381.10 L625.80,379.54 L626.10,380.95 L626.40,380.60 L626.70,381.10 L627.00,379.29 L627.30,380.65 L627.60,379.33 L627.90,381.02 L628.20,379.75 L628.50,381.10 L628.80,379.47 L629.10,381.10 L629.40,378.80 L629.70,381.06 L630.00,380.46 L630.30,381.10 L630.60,380.35 L630.90,380.59 L631.20,378.88 L631.50,380.77 L631.80,379.30 L632.10,380.86 L632.40,380.59 L632.70,380.75 L633.00,379.71 L633.30,381.07 L633.60,380.00 L633.90,380.66 L634.20,377.17 L634.50,380.58 L634.80,379.80 L635.10,381.10 L635.40,380.00 L635.70,381.05 L636.00,380.60 L636.30,381.10 L636.60,378.86 L636.90,381.10 L637.20,380.24 L637.50,381.10 L637.80,378.93 L638.10,380.83 L638.40,379.77 L638.70,380.64 L639.00,380.01 L639.30,380.87 L639.60,379.36 L639.90,380.98 L640.20,379.67 L640.50,381.10 L640.80,380.14 L641.10,381.10 L641.40,379.11 L641.70,380.67 L642.00,379.96 L642.30,380.68 L642.60,379.59 L642.90,380.64 L643.20,379.78 L643.50,381.10 L643.80,380.53 L644.10,380.71 L644.40,380.21 L644.70,380.97 L645.00,379.80 L645.30,380.69 L645.60,379.89 L645.90,380.96 L646.20,380.08 L646.50,381.10 L646.80,379.90 L647.10,381.03 L647.40,379.12 L647.70,381.10 L648.00,380.49 L648.30,381.10 L648.60,379.64 L648.90,380.86 L649.20,380.73 L649.50,381.10 L649.80,379.95 L650.10,381.08 L650.40,380.07 L650.70,381.10 L651.00,378.93 L651.30,381.10 L651.60,380.62 L651.90,381.10 L652.20,380.58 L652.50,381.10 L652.80,379.94 L653.10,381.07 L653.40,379.52 L653.70,380.97 L654.00,379.13 L654.30,381.10 L654.60,380.07 L654.90,381.10 L655.20,379.71 L655.50,381.10 L655.80,378.74 L656.10,380.60 L656.40,380.19 L656.70,381.10 L657.00,379.88 L657.30,380.65 L657.60,378.73 L657.90,381.07 L658.20,378.76 L658.50,381.10 L658.80,380.55 L659.10,380.67 L659.40,380.16 L659.70,381.10 L660.00,380.66 L660.30,381.10 L660.60,380.24 L660.90,380.84 L661.20,378.76 L661.50,381.09 L661.80,380.62 L662.10,381.04 L662.40,379.73 L662.70,380.91 L663.00,379.17 L663.30,381.10 L663.60,379.77 L663.90,381.10 L664.20,379.16 L664.50,380.92 L664.80,378.77 L665.10,381.10 L665.40,378.42 L665.70,380.99 L666.00,378.70 L666.30,380.74 L666.60,379.30 L666.90,381.10 L667.20,379.77 L667.50,381.10 L667.80,380.60 L668.10,381.10 L668.40,380.35 L668.70,380.66 L669.00,379.35 L669.30,380.87 L669.60,380.52 L669.90,380.61 L670.20,379.51 L670.50,381.03 L670.80,379.04 L671.10,380.79 L671.40,379.93 L671.70,380.82 L672.00,378.74 L672.30,381.06 L672.30,381.50 Z" fill="#ff0000" stroke="#ff0000" stroke-width="0.45" stroke-linejoin="round" opacity="1.0"/>
<path d="M566.00,381.50 L566.00,381.20 L566.25,381.20 L566.50,381.20 L566.75,381.20 L567.00,381.20 L567.25,381.20 L567.50,381.20 L567.75,380.93 L568.00,380.86 L568.25,380.26 L568.50,380.71 L568.75,380.31 L569.00,380.02 L569.25,379.91 L569.50,379.56 L569.75,377.89 L570.00,377.66 L570.25,375.73 L570.50,372.85 L570.75,370.85 L571.00,369.99 L571.25,370.92 L571.50,369.01 L571.75,366.95 L572.00,366.50 L572.25,366.95 L572.50,365.19 L572.75,371.56 L573.00,369.73 L573.25,374.50 L573.50,374.97 L573.75,375.81 L574.00,375.69 L574.25,377.34 L574.50,377.89 L574.75,379.50 L575.00,379.95 L575.25,379.57 L575.50,380.33 L575.75,380.47 L576.00,381.20 L576.25,381.20 L576.50,381.20 L576.75,381.20 L577.00,381.20 L577.25,381.20 L577.50,381.20 L577.75,381.20 L578.00,381.20 L578.00,381.50 Z" fill="#ff0000" stroke="#ff0000" stroke-width="0.4" stroke-linejoin="round"/>
<path d="M598.90,381.50 L598.90,381.20 L599.15,381.20 L599.40,381.20 L599.65,381.20 L599.90,381.20 L600.15,381.01 L600.40,380.72 L600.65,380.89 L600.90,379.20 L601.15,379.20 L601.40,377.87 L601.65,378.09 L601.90,376.26 L602.15,374.44 L602.40,374.00 L602.65,374.44 L602.90,374.27 L603.15,378.01 L603.40,379.09 L603.65,379.41 L603.90,380.09 L604.15,380.46 L604.40,380.93 L604.65,381.20 L604.90,381.20 L605.15,381.20 L605.40,381.20 L605.65,381.20 L605.90,381.20 L605.90,381.50 Z" fill="#ff0000" stroke="#ff0000" stroke-width="0.4" stroke-linejoin="round"/>
<line x1="569.90" y1="382.60" x2="569.90" y2="365.00" stroke="#ff3d3d" stroke-width="1.4" stroke-opacity="1.0"/>
<line x1="572.30" y1="382.60" x2="572.30" y2="343.00" stroke="#ff3d3d" stroke-width="1.4" stroke-opacity="1.0"/>
<line x1="601.30" y1="382.60" x2="601.30" y2="355.20" stroke="#ff3d3d" stroke-width="1.4" stroke-opacity="1.0"/>
<line x1="603.20" y1="382.60" x2="603.20" y2="309.70" stroke="#ff3d3d" stroke-width="1.4" stroke-opacity="1.0"/>
<line x1="634.30" y1="382.60" x2="634.30" y2="364.30" stroke="#ff3d3d" stroke-width="1.4" stroke-opacity="1.0"/>
<line x1="665.30" y1="382.60" x2="665.30" y2="370.30" stroke="#ff3d3d" stroke-width="1.4" stroke-opacity="1.0"/>
<path d="M71.60,382.00 L72.70,380.20 L73.80,382.00 Z" fill="#fff" opacity="0.9"/>
<path d="M237.50,382.00 L239.00,379.40 L240.50,382.00 Z" fill="#fff" opacity="0.9"/>
<path d="M269.90,382.00 L270.60,380.70 L271.30,382.00 Z" fill="#fff" opacity="0.9"/>
<path d="M403.50,382.00 L405.60,377.80 L407.70,382.00 Z" fill="#fff" opacity="0.9"/>
<path d="M571.20,382.00 L572.50,378.60 L573.80,382.00 Z" fill="#fff" opacity="0.9"/>
<rect x="41.80" y="24.70" width="131.60" height="144.45" fill="none" stroke="#1a1a1a" stroke-width="1.5" stroke-linejoin="round"/>
<line x1="41.80" y1="169.15" x2="41.80" y2="174.75" stroke="#1a1a1a" stroke-width="1.3"/>
<g transform="translate(41.80,186.15) scale(1,1.0)"><text x="-2.78" y="0" font-size="10" fill="#222">0</text></g>
<line x1="72.75" y1="169.15" x2="72.75" y2="174.75" stroke="#1a1a1a" stroke-width="1.3"/>
<g transform="translate(72.75,186.15) scale(1,1.0)"><path transform="translate(-2.78,0) scale(10)" d="M0.283,0 L0.393,0 L0.393,-0.716 L0.322,-0.716 C0.296,-0.662 0.218,-0.588 0.105,-0.545 L0.105,-0.445 C0.176,-0.470 0.246,-0.510 0.283,-0.556 Z" fill="#222" stroke="#222" stroke-width="0.0220"/></g>
<line x1="103.70" y1="169.15" x2="103.70" y2="174.75" stroke="#1a1a1a" stroke-width="1.3"/>
<g transform="translate(103.70,186.15) scale(1,1.0)"><text x="-2.78" y="0" font-size="10" fill="#222">2</text></g>
<line x1="134.65" y1="169.15" x2="134.65" y2="174.75" stroke="#1a1a1a" stroke-width="1.3"/>
<g transform="translate(134.65,186.15) scale(1,1.0)"><text x="-2.78" y="0" font-size="10" fill="#222">3</text></g>
<line x1="165.60" y1="169.15" x2="165.60" y2="174.75" stroke="#1a1a1a" stroke-width="1.3"/>
<g transform="translate(165.60,186.15) scale(1,1.0)"><text x="-2.78" y="0" font-size="10" fill="#222">4</text></g>
<line x1="35.80" y1="169.15" x2="41.80" y2="169.15" stroke="#1a1a1a" stroke-width="1.3"/>
<g transform="translate(30.60,169.15) rotate(-90) scale(1,1.0)"><text x="-6.74" y="0" font-size="9.7" fill="#222">0.0</text></g>
<line x1="35.80" y1="124.01" x2="41.80" y2="124.01" stroke="#1a1a1a" stroke-width="1.3"/>
<g transform="translate(30.60,124.01) rotate(-90) scale(1,1.0)"><text x="-6.74" y="0" font-size="9.7" fill="#222">0.5</text></g>
<line x1="35.80" y1="78.87" x2="41.80" y2="78.87" stroke="#1a1a1a" stroke-width="1.3"/>
<g transform="translate(30.60,78.87) rotate(-90) scale(1,1.0)"><path transform="translate(-6.74,0) scale(9.7)" d="M0.283,0 L0.393,0 L0.393,-0.716 L0.322,-0.716 C0.296,-0.662 0.218,-0.588 0.105,-0.545 L0.105,-0.445 C0.176,-0.470 0.246,-0.510 0.283,-0.556 Z" fill="#222" stroke="#222" stroke-width="0.0227"/><text x="-1.35" y="0" font-size="9.7" fill="#222">.0</text></g>
<line x1="35.80" y1="33.73" x2="41.80" y2="33.73" stroke="#1a1a1a" stroke-width="1.3"/>
<g transform="translate(30.60,33.73) rotate(-90) scale(1,1.0)"><path transform="translate(-6.74,0) scale(9.7)" d="M0.283,0 L0.393,0 L0.393,-0.716 L0.322,-0.716 C0.296,-0.662 0.218,-0.588 0.105,-0.545 L0.105,-0.445 C0.176,-0.470 0.246,-0.510 0.283,-0.556 Z" fill="#222" stroke="#222" stroke-width="0.0227"/><text x="-1.35" y="0" font-size="9.7" fill="#222">.5</text></g>
<rect x="41.80" y="239.10" width="131.60" height="143.90" fill="none" stroke="#1a1a1a" stroke-width="1.5" stroke-linejoin="round"/>
<line x1="41.80" y1="383.00" x2="41.80" y2="388.60" stroke="#1a1a1a" stroke-width="1.3"/>
<g transform="translate(41.80,400.00) scale(1,1.0)"><text x="-2.78" y="0" font-size="10" fill="#222">0</text></g>
<line x1="72.75" y1="383.00" x2="72.75" y2="388.60" stroke="#1a1a1a" stroke-width="1.3"/>
<g transform="translate(72.75,400.00) scale(1,1.0)"><path transform="translate(-2.78,0) scale(10)" d="M0.283,0 L0.393,0 L0.393,-0.716 L0.322,-0.716 C0.296,-0.662 0.218,-0.588 0.105,-0.545 L0.105,-0.445 C0.176,-0.470 0.246,-0.510 0.283,-0.556 Z" fill="#222" stroke="#222" stroke-width="0.0220"/></g>
<line x1="103.70" y1="383.00" x2="103.70" y2="388.60" stroke="#1a1a1a" stroke-width="1.3"/>
<g transform="translate(103.70,400.00) scale(1,1.0)"><text x="-2.78" y="0" font-size="10" fill="#222">2</text></g>
<line x1="134.65" y1="383.00" x2="134.65" y2="388.60" stroke="#1a1a1a" stroke-width="1.3"/>
<g transform="translate(134.65,400.00) scale(1,1.0)"><text x="-2.78" y="0" font-size="10" fill="#222">3</text></g>
<line x1="165.60" y1="383.00" x2="165.60" y2="388.60" stroke="#1a1a1a" stroke-width="1.3"/>
<g transform="translate(165.60,400.00) scale(1,1.0)"><text x="-2.78" y="0" font-size="10" fill="#222">4</text></g>
<line x1="35.80" y1="383.00" x2="41.80" y2="383.00" stroke="#1a1a1a" stroke-width="1.3"/>
<g transform="translate(30.60,383.00) rotate(-90) scale(1,1.0)"><text x="-6.74" y="0" font-size="9.7" fill="#222">0.0</text></g>
<line x1="35.80" y1="338.03" x2="41.80" y2="338.03" stroke="#1a1a1a" stroke-width="1.3"/>
<g transform="translate(30.60,338.03) rotate(-90) scale(1,1.0)"><text x="-6.74" y="0" font-size="9.7" fill="#222">0.5</text></g>
<line x1="35.80" y1="293.06" x2="41.80" y2="293.06" stroke="#1a1a1a" stroke-width="1.3"/>
<g transform="translate(30.60,293.06) rotate(-90) scale(1,1.0)"><path transform="translate(-6.74,0) scale(9.7)" d="M0.283,0 L0.393,0 L0.393,-0.716 L0.322,-0.716 C0.296,-0.662 0.218,-0.588 0.105,-0.545 L0.105,-0.445 C0.176,-0.470 0.246,-0.510 0.283,-0.556 Z" fill="#222" stroke="#222" stroke-width="0.0227"/><text x="-1.35" y="0" font-size="9.7" fill="#222">.0</text></g>
<line x1="35.80" y1="248.09" x2="41.80" y2="248.09" stroke="#1a1a1a" stroke-width="1.3"/>
<g transform="translate(30.60,248.09) rotate(-90) scale(1,1.0)"><path transform="translate(-6.74,0) scale(9.7)" d="M0.283,0 L0.393,0 L0.393,-0.716 L0.322,-0.716 C0.296,-0.662 0.218,-0.588 0.105,-0.545 L0.105,-0.445 C0.176,-0.470 0.246,-0.510 0.283,-0.556 Z" fill="#222" stroke="#222" stroke-width="0.0227"/><text x="-1.35" y="0" font-size="9.7" fill="#222">.5</text></g>
<rect x="208.50" y="24.70" width="131.60" height="144.45" fill="none" stroke="#1a1a1a" stroke-width="1.5" stroke-linejoin="round"/>
<line x1="208.50" y1="169.15" x2="208.50" y2="174.75" stroke="#1a1a1a" stroke-width="1.3"/>
<g transform="translate(208.50,186.15) scale(1,1.0)"><text x="-2.78" y="0" font-size="10" fill="#222">0</text></g>
<line x1="239.45" y1="169.15" x2="239.45" y2="174.75" stroke="#1a1a1a" stroke-width="1.3"/>
<g transform="translate(239.45,186.15) scale(1,1.0)"><path transform="translate(-2.78,0) scale(10)" d="M0.283,0 L0.393,0 L0.393,-0.716 L0.322,-0.716 C0.296,-0.662 0.218,-0.588 0.105,-0.545 L0.105,-0.445 C0.176,-0.470 0.246,-0.510 0.283,-0.556 Z" fill="#222" stroke="#222" stroke-width="0.0220"/></g>
<line x1="270.40" y1="169.15" x2="270.40" y2="174.75" stroke="#1a1a1a" stroke-width="1.3"/>
<g transform="translate(270.40,186.15) scale(1,1.0)"><text x="-2.78" y="0" font-size="10" fill="#222">2</text></g>
<line x1="301.35" y1="169.15" x2="301.35" y2="174.75" stroke="#1a1a1a" stroke-width="1.3"/>
<g transform="translate(301.35,186.15) scale(1,1.0)"><text x="-2.78" y="0" font-size="10" fill="#222">3</text></g>
<line x1="332.30" y1="169.15" x2="332.30" y2="174.75" stroke="#1a1a1a" stroke-width="1.3"/>
<g transform="translate(332.30,186.15) scale(1,1.0)"><text x="-2.78" y="0" font-size="10" fill="#222">4</text></g>
<line x1="202.50" y1="169.15" x2="208.50" y2="169.15" stroke="#1a1a1a" stroke-width="1.3"/>
<g transform="translate(197.30,169.15) rotate(-90) scale(1,1.0)"><text x="-6.74" y="0" font-size="9.7" fill="#222">0.0</text></g>
<line x1="202.50" y1="141.37" x2="208.50" y2="141.37" stroke="#1a1a1a" stroke-width="1.3"/>
<g transform="translate(197.30,141.37) rotate(-90) scale(1,1.0)"><text x="-6.74" y="0" font-size="9.7" fill="#222">0.</text><path transform="translate(1.35,0) scale(9.7)" d="M0.283,0 L0.393,0 L0.393,-0.716 L0.322,-0.716 C0.296,-0.662 0.218,-0.588 0.105,-0.545 L0.105,-0.445 C0.176,-0.470 0.246,-0.510 0.283,-0.556 Z" fill="#222" stroke="#222" stroke-width="0.0227"/></g>
<line x1="202.50" y1="113.59" x2="208.50" y2="113.59" stroke="#1a1a1a" stroke-width="1.3"/>
<g transform="translate(197.30,113.59) rotate(-90) scale(1,1.0)"><text x="-6.74" y="0" font-size="9.7" fill="#222">0.2</text></g>
<line x1="202.50" y1="85.81" x2="208.50" y2="85.81" stroke="#1a1a1a" stroke-width="1.3"/>
<g transform="translate(197.30,85.81) rotate(-90) scale(1,1.0)"><text x="-6.74" y="0" font-size="9.7" fill="#222">0.3</text></g>
<line x1="202.50" y1="58.03" x2="208.50" y2="58.03" stroke="#1a1a1a" stroke-width="1.3"/>
<g transform="translate(197.30,58.03) rotate(-90) scale(1,1.0)"><text x="-6.74" y="0" font-size="9.7" fill="#222">0.4</text></g>
<line x1="202.50" y1="30.26" x2="208.50" y2="30.26" stroke="#1a1a1a" stroke-width="1.3"/>
<g transform="translate(197.30,30.26) rotate(-90) scale(1,1.0)"><text x="-6.74" y="0" font-size="9.7" fill="#222">0.5</text></g>
<rect x="208.50" y="239.10" width="131.60" height="143.90" fill="none" stroke="#1a1a1a" stroke-width="1.5" stroke-linejoin="round"/>
<line x1="208.50" y1="383.00" x2="208.50" y2="388.60" stroke="#1a1a1a" stroke-width="1.3"/>
<g transform="translate(208.50,400.00) scale(1,1.0)"><text x="-2.78" y="0" font-size="10" fill="#222">0</text></g>
<line x1="239.45" y1="383.00" x2="239.45" y2="388.60" stroke="#1a1a1a" stroke-width="1.3"/>
<g transform="translate(239.45,400.00) scale(1,1.0)"><path transform="translate(-2.78,0) scale(10)" d="M0.283,0 L0.393,0 L0.393,-0.716 L0.322,-0.716 C0.296,-0.662 0.218,-0.588 0.105,-0.545 L0.105,-0.445 C0.176,-0.470 0.246,-0.510 0.283,-0.556 Z" fill="#222" stroke="#222" stroke-width="0.0220"/></g>
<line x1="270.40" y1="383.00" x2="270.40" y2="388.60" stroke="#1a1a1a" stroke-width="1.3"/>
<g transform="translate(270.40,400.00) scale(1,1.0)"><text x="-2.78" y="0" font-size="10" fill="#222">2</text></g>
<line x1="301.35" y1="383.00" x2="301.35" y2="388.60" stroke="#1a1a1a" stroke-width="1.3"/>
<g transform="translate(301.35,400.00) scale(1,1.0)"><text x="-2.78" y="0" font-size="10" fill="#222">3</text></g>
<line x1="332.30" y1="383.00" x2="332.30" y2="388.60" stroke="#1a1a1a" stroke-width="1.3"/>
<g transform="translate(332.30,400.00) scale(1,1.0)"><text x="-2.78" y="0" font-size="10" fill="#222">4</text></g>
<line x1="202.50" y1="383.00" x2="208.50" y2="383.00" stroke="#1a1a1a" stroke-width="1.3"/>
<g transform="translate(197.30,383.00) rotate(-90) scale(1,1.0)"><text x="-6.74" y="0" font-size="9.7" fill="#222">0.0</text></g>
<line x1="202.50" y1="355.33" x2="208.50" y2="355.33" stroke="#1a1a1a" stroke-width="1.3"/>
<g transform="translate(197.30,355.33) rotate(-90) scale(1,1.0)"><text x="-6.74" y="0" font-size="9.7" fill="#222">0.</text><path transform="translate(1.35,0) scale(9.7)" d="M0.283,0 L0.393,0 L0.393,-0.716 L0.322,-0.716 C0.296,-0.662 0.218,-0.588 0.105,-0.545 L0.105,-0.445 C0.176,-0.470 0.246,-0.510 0.283,-0.556 Z" fill="#222" stroke="#222" stroke-width="0.0227"/></g>
<line x1="202.50" y1="327.65" x2="208.50" y2="327.65" stroke="#1a1a1a" stroke-width="1.3"/>
<g transform="translate(197.30,327.65) rotate(-90) scale(1,1.0)"><text x="-6.74" y="0" font-size="9.7" fill="#222">0.2</text></g>
<line x1="202.50" y1="299.98" x2="208.50" y2="299.98" stroke="#1a1a1a" stroke-width="1.3"/>
<g transform="translate(197.30,299.98) rotate(-90) scale(1,1.0)"><text x="-6.74" y="0" font-size="9.7" fill="#222">0.3</text></g>
<line x1="202.50" y1="272.31" x2="208.50" y2="272.31" stroke="#1a1a1a" stroke-width="1.3"/>
<g transform="translate(197.30,272.31) rotate(-90) scale(1,1.0)"><text x="-6.74" y="0" font-size="9.7" fill="#222">0.4</text></g>
<line x1="202.50" y1="244.63" x2="208.50" y2="244.63" stroke="#1a1a1a" stroke-width="1.3"/>
<g transform="translate(197.30,244.63) rotate(-90) scale(1,1.0)"><text x="-6.74" y="0" font-size="9.7" fill="#222">0.5</text></g>
<rect x="375.00" y="24.70" width="131.60" height="144.45" fill="none" stroke="#1a1a1a" stroke-width="1.5" stroke-linejoin="round"/>
<line x1="375.00" y1="169.15" x2="375.00" y2="174.75" stroke="#1a1a1a" stroke-width="1.3"/>
<g transform="translate(375.00,186.15) scale(1,1.0)"><text x="-2.78" y="0" font-size="10" fill="#222">0</text></g>
<line x1="405.95" y1="169.15" x2="405.95" y2="174.75" stroke="#1a1a1a" stroke-width="1.3"/>
<g transform="translate(405.95,186.15) scale(1,1.0)"><path transform="translate(-2.78,0) scale(10)" d="M0.283,0 L0.393,0 L0.393,-0.716 L0.322,-0.716 C0.296,-0.662 0.218,-0.588 0.105,-0.545 L0.105,-0.445 C0.176,-0.470 0.246,-0.510 0.283,-0.556 Z" fill="#222" stroke="#222" stroke-width="0.0220"/></g>
<line x1="436.90" y1="169.15" x2="436.90" y2="174.75" stroke="#1a1a1a" stroke-width="1.3"/>
<g transform="translate(436.90,186.15) scale(1,1.0)"><text x="-2.78" y="0" font-size="10" fill="#222">2</text></g>
<line x1="467.85" y1="169.15" x2="467.85" y2="174.75" stroke="#1a1a1a" stroke-width="1.3"/>
<g transform="translate(467.85,186.15) scale(1,1.0)"><text x="-2.78" y="0" font-size="10" fill="#222">3</text></g>
<line x1="498.80" y1="169.15" x2="498.80" y2="174.75" stroke="#1a1a1a" stroke-width="1.3"/>
<g transform="translate(498.80,186.15) scale(1,1.0)"><text x="-2.78" y="0" font-size="10" fill="#222">4</text></g>
<line x1="369.00" y1="169.15" x2="375.00" y2="169.15" stroke="#1a1a1a" stroke-width="1.3"/>
<g transform="translate(363.80,169.15) rotate(-90) scale(1,1.0)"><text x="-6.74" y="0" font-size="9.7" fill="#222">0.0</text></g>
<line x1="369.00" y1="141.37" x2="375.00" y2="141.37" stroke="#1a1a1a" stroke-width="1.3"/>
<g transform="translate(363.80,141.37) rotate(-90) scale(1,1.0)"><text x="-6.74" y="0" font-size="9.7" fill="#222">0.</text><path transform="translate(1.35,0) scale(9.7)" d="M0.283,0 L0.393,0 L0.393,-0.716 L0.322,-0.716 C0.296,-0.662 0.218,-0.588 0.105,-0.545 L0.105,-0.445 C0.176,-0.470 0.246,-0.510 0.283,-0.556 Z" fill="#222" stroke="#222" stroke-width="0.0227"/></g>
<line x1="369.00" y1="113.59" x2="375.00" y2="113.59" stroke="#1a1a1a" stroke-width="1.3"/>
<g transform="translate(363.80,113.59) rotate(-90) scale(1,1.0)"><text x="-6.74" y="0" font-size="9.7" fill="#222">0.2</text></g>
<line x1="369.00" y1="85.81" x2="375.00" y2="85.81" stroke="#1a1a1a" stroke-width="1.3"/>
<g transform="translate(363.80,85.81) rotate(-90) scale(1,1.0)"><text x="-6.74" y="0" font-size="9.7" fill="#222">0.3</text></g>
<line x1="369.00" y1="58.03" x2="375.00" y2="58.03" stroke="#1a1a1a" stroke-width="1.3"/>
<g transform="translate(363.80,58.03) rotate(-90) scale(1,1.0)"><text x="-6.74" y="0" font-size="9.7" fill="#222">0.4</text></g>
<line x1="369.00" y1="30.26" x2="375.00" y2="30.26" stroke="#1a1a1a" stroke-width="1.3"/>
<g transform="translate(363.80,30.26) rotate(-90) scale(1,1.0)"><text x="-6.74" y="0" font-size="9.7" fill="#222">0.5</text></g>
<rect x="375.00" y="239.10" width="131.60" height="143.90" fill="none" stroke="#1a1a1a" stroke-width="1.5" stroke-linejoin="round"/>
<line x1="375.00" y1="383.00" x2="375.00" y2="388.60" stroke="#1a1a1a" stroke-width="1.3"/>
<g transform="translate(375.00,400.00) scale(1,1.0)"><text x="-2.78" y="0" font-size="10" fill="#222">0</text></g>
<line x1="405.95" y1="383.00" x2="405.95" y2="388.60" stroke="#1a1a1a" stroke-width="1.3"/>
<g transform="translate(405.95,400.00) scale(1,1.0)"><path transform="translate(-2.78,0) scale(10)" d="M0.283,0 L0.393,0 L0.393,-0.716 L0.322,-0.716 C0.296,-0.662 0.218,-0.588 0.105,-0.545 L0.105,-0.445 C0.176,-0.470 0.246,-0.510 0.283,-0.556 Z" fill="#222" stroke="#222" stroke-width="0.0220"/></g>
<line x1="436.90" y1="383.00" x2="436.90" y2="388.60" stroke="#1a1a1a" stroke-width="1.3"/>
<g transform="translate(436.90,400.00) scale(1,1.0)"><text x="-2.78" y="0" font-size="10" fill="#222">2</text></g>
<line x1="467.85" y1="383.00" x2="467.85" y2="388.60" stroke="#1a1a1a" stroke-width="1.3"/>
<g transform="translate(467.85,400.00) scale(1,1.0)"><text x="-2.78" y="0" font-size="10" fill="#222">3</text></g>
<line x1="498.80" y1="383.00" x2="498.80" y2="388.60" stroke="#1a1a1a" stroke-width="1.3"/>
<g transform="translate(498.80,400.00) scale(1,1.0)"><text x="-2.78" y="0" font-size="10" fill="#222">4</text></g>
<line x1="369.00" y1="383.00" x2="375.00" y2="383.00" stroke="#1a1a1a" stroke-width="1.3"/>
<g transform="translate(363.80,383.00) rotate(-90) scale(1,1.0)"><text x="-6.74" y="0" font-size="9.7" fill="#222">0.0</text></g>
<line x1="369.00" y1="355.33" x2="375.00" y2="355.33" stroke="#1a1a1a" stroke-width="1.3"/>
<g transform="translate(363.80,355.33) rotate(-90) scale(1,1.0)"><text x="-6.74" y="0" font-size="9.7" fill="#222">0.</text><path transform="translate(1.35,0) scale(9.7)" d="M0.283,0 L0.393,0 L0.393,-0.716 L0.322,-0.716 C0.296,-0.662 0.218,-0.588 0.105,-0.545 L0.105,-0.445 C0.176,-0.470 0.246,-0.510 0.283,-0.556 Z" fill="#222" stroke="#222" stroke-width="0.0227"/></g>
<line x1="369.00" y1="327.65" x2="375.00" y2="327.65" stroke="#1a1a1a" stroke-width="1.3"/>
<g transform="translate(363.80,327.65) rotate(-90) scale(1,1.0)"><text x="-6.74" y="0" font-size="9.7" fill="#222">0.2</text></g>
<line x1="369.00" y1="299.98" x2="375.00" y2="299.98" stroke="#1a1a1a" stroke-width="1.3"/>
<g transform="translate(363.80,299.98) rotate(-90) scale(1,1.0)"><text x="-6.74" y="0" font-size="9.7" fill="#222">0.3</text></g>
<line x1="369.00" y1="272.31" x2="375.00" y2="272.31" stroke="#1a1a1a" stroke-width="1.3"/>
<g transform="translate(363.80,272.31) rotate(-90) scale(1,1.0)"><text x="-6.74" y="0" font-size="9.7" fill="#222">0.4</text></g>
<line x1="369.00" y1="244.63" x2="375.00" y2="244.63" stroke="#1a1a1a" stroke-width="1.3"/>
<g transform="translate(363.80,244.63) rotate(-90) scale(1,1.0)"><text x="-6.74" y="0" font-size="9.7" fill="#222">0.5</text></g>
<rect x="541.50" y="24.70" width="131.60" height="144.45" fill="none" stroke="#1a1a1a" stroke-width="1.5" stroke-linejoin="round"/>
<line x1="541.50" y1="169.15" x2="541.50" y2="174.75" stroke="#1a1a1a" stroke-width="1.3"/>
<g transform="translate(541.50,186.15) scale(1,1.0)"><text x="-2.78" y="0" font-size="10" fill="#222">0</text></g>
<line x1="572.45" y1="169.15" x2="572.45" y2="174.75" stroke="#1a1a1a" stroke-width="1.3"/>
<g transform="translate(572.45,186.15) scale(1,1.0)"><path transform="translate(-2.78,0) scale(10)" d="M0.283,0 L0.393,0 L0.393,-0.716 L0.322,-0.716 C0.296,-0.662 0.218,-0.588 0.105,-0.545 L0.105,-0.445 C0.176,-0.470 0.246,-0.510 0.283,-0.556 Z" fill="#222" stroke="#222" stroke-width="0.0220"/></g>
<line x1="603.40" y1="169.15" x2="603.40" y2="174.75" stroke="#1a1a1a" stroke-width="1.3"/>
<g transform="translate(603.40,186.15) scale(1,1.0)"><text x="-2.78" y="0" font-size="10" fill="#222">2</text></g>
<line x1="634.35" y1="169.15" x2="634.35" y2="174.75" stroke="#1a1a1a" stroke-width="1.3"/>
<g transform="translate(634.35,186.15) scale(1,1.0)"><text x="-2.78" y="0" font-size="10" fill="#222">3</text></g>
<line x1="665.30" y1="169.15" x2="665.30" y2="174.75" stroke="#1a1a1a" stroke-width="1.3"/>
<g transform="translate(665.30,186.15) scale(1,1.0)"><text x="-2.78" y="0" font-size="10" fill="#222">4</text></g>
<line x1="535.50" y1="169.15" x2="541.50" y2="169.15" stroke="#1a1a1a" stroke-width="1.3"/>
<g transform="translate(530.30,169.15) rotate(-90) scale(1,1.0)"><text x="-6.74" y="0" font-size="9.7" fill="#222">0.0</text></g>
<line x1="535.50" y1="141.37" x2="541.50" y2="141.37" stroke="#1a1a1a" stroke-width="1.3"/>
<g transform="translate(530.30,141.37) rotate(-90) scale(1,1.0)"><text x="-6.74" y="0" font-size="9.7" fill="#222">0.</text><path transform="translate(1.35,0) scale(9.7)" d="M0.283,0 L0.393,0 L0.393,-0.716 L0.322,-0.716 C0.296,-0.662 0.218,-0.588 0.105,-0.545 L0.105,-0.445 C0.176,-0.470 0.246,-0.510 0.283,-0.556 Z" fill="#222" stroke="#222" stroke-width="0.0227"/></g>
<line x1="535.50" y1="113.59" x2="541.50" y2="113.59" stroke="#1a1a1a" stroke-width="1.3"/>
<g transform="translate(530.30,113.59) rotate(-90) scale(1,1.0)"><text x="-6.74" y="0" font-size="9.7" fill="#222">0.2</text></g>
<line x1="535.50" y1="85.81" x2="541.50" y2="85.81" stroke="#1a1a1a" stroke-width="1.3"/>
<g transform="translate(530.30,85.81) rotate(-90) scale(1,1.0)"><text x="-6.74" y="0" font-size="9.7" fill="#222">0.3</text></g>
<line x1="535.50" y1="58.03" x2="541.50" y2="58.03" stroke="#1a1a1a" stroke-width="1.3"/>
<g transform="translate(530.30,58.03) rotate(-90) scale(1,1.0)"><text x="-6.74" y="0" font-size="9.7" fill="#222">0.4</text></g>
<line x1="535.50" y1="30.26" x2="541.50" y2="30.26" stroke="#1a1a1a" stroke-width="1.3"/>
<g transform="translate(530.30,30.26) rotate(-90) scale(1,1.0)"><text x="-6.74" y="0" font-size="9.7" fill="#222">0.5</text></g>
<rect x="541.50" y="239.10" width="131.60" height="143.90" fill="none" stroke="#1a1a1a" stroke-width="1.5" stroke-linejoin="round"/>
<line x1="541.50" y1="383.00" x2="541.50" y2="388.60" stroke="#1a1a1a" stroke-width="1.3"/>
<g transform="translate(541.50,400.00) scale(1,1.0)"><text x="-2.78" y="0" font-size="10" fill="#222">0</text></g>
<line x1="572.45" y1="383.00" x2="572.45" y2="388.60" stroke="#1a1a1a" stroke-width="1.3"/>
<g transform="translate(572.45,400.00) scale(1,1.0)"><path transform="translate(-2.78,0) scale(10)" d="M0.283,0 L0.393,0 L0.393,-0.716 L0.322,-0.716 C0.296,-0.662 0.218,-0.588 0.105,-0.545 L0.105,-0.445 C0.176,-0.470 0.246,-0.510 0.283,-0.556 Z" fill="#222" stroke="#222" stroke-width="0.0220"/></g>
<line x1="603.40" y1="383.00" x2="603.40" y2="388.60" stroke="#1a1a1a" stroke-width="1.3"/>
<g transform="translate(603.40,400.00) scale(1,1.0)"><text x="-2.78" y="0" font-size="10" fill="#222">2</text></g>
<line x1="634.35" y1="383.00" x2="634.35" y2="388.60" stroke="#1a1a1a" stroke-width="1.3"/>
<g transform="translate(634.35,400.00) scale(1,1.0)"><text x="-2.78" y="0" font-size="10" fill="#222">3</text></g>
<line x1="665.30" y1="383.00" x2="665.30" y2="388.60" stroke="#1a1a1a" stroke-width="1.3"/>
<g transform="translate(665.30,400.00) scale(1,1.0)"><text x="-2.78" y="0" font-size="10" fill="#222">4</text></g>
<line x1="535.50" y1="383.00" x2="541.50" y2="383.00" stroke="#1a1a1a" stroke-width="1.3"/>
<g transform="translate(530.30,383.00) rotate(-90) scale(1,1.0)"><text x="-6.74" y="0" font-size="9.7" fill="#222">0.0</text></g>
<line x1="535.50" y1="355.33" x2="541.50" y2="355.33" stroke="#1a1a1a" stroke-width="1.3"/>
<g transform="translate(530.30,355.33) rotate(-90) scale(1,1.0)"><text x="-6.74" y="0" font-size="9.7" fill="#222">0.</text><path transform="translate(1.35,0) scale(9.7)" d="M0.283,0 L0.393,0 L0.393,-0.716 L0.322,-0.716 C0.296,-0.662 0.218,-0.588 0.105,-0.545 L0.105,-0.445 C0.176,-0.470 0.246,-0.510 0.283,-0.556 Z" fill="#222" stroke="#222" stroke-width="0.0227"/></g>
<line x1="535.50" y1="327.65" x2="541.50" y2="327.65" stroke="#1a1a1a" stroke-width="1.3"/>
<g transform="translate(530.30,327.65) rotate(-90) scale(1,1.0)"><text x="-6.74" y="0" font-size="9.7" fill="#222">0.2</text></g>
<line x1="535.50" y1="299.98" x2="541.50" y2="299.98" stroke="#1a1a1a" stroke-width="1.3"/>
<g transform="translate(530.30,299.98) rotate(-90) scale(1,1.0)"><text x="-6.74" y="0" font-size="9.7" fill="#222">0.3</text></g>
<line x1="535.50" y1="272.31" x2="541.50" y2="272.31" stroke="#1a1a1a" stroke-width="1.3"/>
<g transform="translate(530.30,272.31) rotate(-90) scale(1,1.0)"><text x="-6.74" y="0" font-size="9.7" fill="#222">0.4</text></g>
<line x1="535.50" y1="244.63" x2="541.50" y2="244.63" stroke="#1a1a1a" stroke-width="1.3"/>
<g transform="translate(530.30,244.63) rotate(-90) scale(1,1.0)"><text x="-6.74" y="0" font-size="9.7" fill="#222">0.5</text></g>
<text x="86.98" y="37.90" font-size="10.0" fill="#1a1a1a">M</text><g transform="translate(94.81,40.00)"><text x="0.00" y="0" font-size="6.7" fill="#1a1a1a">2</text></g>
<text x="107.95" y="120.00" font-size="10.0" fill="#1a1a1a">S</text><g transform="translate(114.12,122.10)"><text x="0.00" y="0" font-size="6.7" fill="#1a1a1a">2</text></g>
<text x="89.18" y="137.70" font-size="10.0" fill="#1a1a1a">N</text><g transform="translate(95.90,139.80)"><text x="0.00" y="0" font-size="6.7" fill="#1a1a1a">2</text></g>
<text x="75.08" y="151.50" font-size="10.0" fill="#1a1a1a">K</text><g transform="translate(81.25,153.60)"><path transform="translate(0.00,0) scale(6.7)" d="M0.283,0 L0.393,0 L0.393,-0.716 L0.322,-0.716 C0.296,-0.662 0.218,-0.588 0.105,-0.545 L0.105,-0.445 C0.176,-0.470 0.246,-0.510 0.283,-0.556 Z" fill="#1a1a1a" stroke="#1a1a1a" stroke-width="0.0328"/></g>
<text x="57.63" y="157.40" font-size="10.0" fill="#1a1a1a">O</text><g transform="translate(64.91,159.50)"><path transform="translate(0.00,0) scale(6.7)" d="M0.283,0 L0.393,0 L0.393,-0.716 L0.322,-0.716 C0.296,-0.662 0.218,-0.588 0.105,-0.545 L0.105,-0.445 C0.176,-0.470 0.246,-0.510 0.283,-0.556 Z" fill="#1a1a1a" stroke="#1a1a1a" stroke-width="0.0328"/></g>
<text x="256.18" y="105.10" font-size="10.0" fill="#1a1a1a">M</text><g transform="translate(264.01,107.20)"><text x="0.00" y="0" font-size="6.7" fill="#1a1a1a">2</text></g>
<text x="272.25" y="143.90" font-size="10.0" fill="#1a1a1a">S</text><g transform="translate(278.42,146.00)"><text x="0.00" y="0" font-size="6.7" fill="#1a1a1a">2</text></g>
<text x="256.68" y="143.90" font-size="10.0" fill="#1a1a1a">N</text><g transform="translate(263.40,146.00)"><text x="0.00" y="0" font-size="6.7" fill="#1a1a1a">2</text></g>
<text x="238.28" y="151.50" font-size="10.0" fill="#1a1a1a">K</text><g transform="translate(244.45,153.60)"><path transform="translate(0.00,0) scale(6.7)" d="M0.283,0 L0.393,0 L0.393,-0.716 L0.322,-0.716 C0.296,-0.662 0.218,-0.588 0.105,-0.545 L0.105,-0.445 C0.176,-0.470 0.246,-0.510 0.283,-0.556 Z" fill="#1a1a1a" stroke="#1a1a1a" stroke-width="0.0328"/></g>
<text x="221.33" y="157.00" font-size="10.0" fill="#1a1a1a">O</text><g transform="translate(228.61,159.10)"><path transform="translate(0.00,0) scale(6.7)" d="M0.283,0 L0.393,0 L0.393,-0.716 L0.322,-0.716 C0.296,-0.662 0.218,-0.588 0.105,-0.545 L0.105,-0.445 C0.176,-0.470 0.246,-0.510 0.283,-0.556 Z" fill="#1a1a1a" stroke="#1a1a1a" stroke-width="0.0328"/></g>
<text x="421.18" y="45.70" font-size="10.0" fill="#1a1a1a">M</text><g transform="translate(429.01,47.80)"><text x="0.00" y="0" font-size="6.7" fill="#1a1a1a">2</text></g>
<text x="439.25" y="125.50" font-size="10.0" fill="#1a1a1a">S</text><g transform="translate(445.42,127.60)"><text x="0.00" y="0" font-size="6.7" fill="#1a1a1a">2</text></g>
<text x="422.18" y="141.60" font-size="10.0" fill="#1a1a1a">N</text><g transform="translate(428.90,143.70)"><text x="0.00" y="0" font-size="6.7" fill="#1a1a1a">2</text></g>
<text x="406.18" y="147.60" font-size="10.0" fill="#1a1a1a">K</text><g transform="translate(412.35,149.70)"><path transform="translate(0.00,0) scale(6.7)" d="M0.283,0 L0.393,0 L0.393,-0.716 L0.322,-0.716 C0.296,-0.662 0.218,-0.588 0.105,-0.545 L0.105,-0.445 C0.176,-0.470 0.246,-0.510 0.283,-0.556 Z" fill="#1a1a1a" stroke="#1a1a1a" stroke-width="0.0328"/></g>
<text x="388.53" y="153.20" font-size="10.0" fill="#1a1a1a">O</text><g transform="translate(395.81,155.30)"><path transform="translate(0.00,0) scale(6.7)" d="M0.283,0 L0.393,0 L0.393,-0.716 L0.322,-0.716 C0.296,-0.662 0.218,-0.588 0.105,-0.545 L0.105,-0.445 C0.176,-0.470 0.246,-0.510 0.283,-0.556 Z" fill="#1a1a1a" stroke="#1a1a1a" stroke-width="0.0328"/></g>
<text x="587.08" y="41.20" font-size="10.0" fill="#1a1a1a">M</text><g transform="translate(594.91,43.30)"><text x="0.00" y="0" font-size="6.7" fill="#1a1a1a">2</text></g>
<text x="606.35" y="123.40" font-size="10.0" fill="#1a1a1a">S</text><g transform="translate(612.52,125.50)"><text x="0.00" y="0" font-size="6.7" fill="#1a1a1a">2</text></g>
<text x="588.98" y="140.80" font-size="10.0" fill="#1a1a1a">N</text><g transform="translate(595.70,142.90)"><text x="0.00" y="0" font-size="6.7" fill="#1a1a1a">2</text></g>
<text x="572.98" y="150.10" font-size="10.0" fill="#1a1a1a">K</text><g transform="translate(579.15,152.20)"><path transform="translate(0.00,0) scale(6.7)" d="M0.283,0 L0.393,0 L0.393,-0.716 L0.322,-0.716 C0.296,-0.662 0.218,-0.588 0.105,-0.545 L0.105,-0.445 C0.176,-0.470 0.246,-0.510 0.283,-0.556 Z" fill="#1a1a1a" stroke="#1a1a1a" stroke-width="0.0328"/></g>
<text x="555.33" y="155.70" font-size="10.0" fill="#1a1a1a">O</text><g transform="translate(562.61,157.80)"><path transform="translate(0.00,0) scale(6.7)" d="M0.283,0 L0.393,0 L0.393,-0.716 L0.322,-0.716 C0.296,-0.662 0.218,-0.588 0.105,-0.545 L0.105,-0.445 C0.176,-0.470 0.246,-0.510 0.283,-0.556 Z" fill="#1a1a1a" stroke="#1a1a1a" stroke-width="0.0328"/></g>
<text x="60.65" y="281.10" font-size="10.0" fill="#1a1a1a">S</text><g transform="translate(66.82,283.20)"><path transform="translate(0.00,0) scale(6.7)" d="M0.283,0 L0.393,0 L0.393,-0.716 L0.322,-0.716 C0.296,-0.662 0.218,-0.588 0.105,-0.545 L0.105,-0.445 C0.176,-0.470 0.246,-0.510 0.283,-0.556 Z" fill="#1a1a1a" stroke="#1a1a1a" stroke-width="0.0328"/></g>
<text x="91.75" y="265.50" font-size="10.0" fill="#1a1a1a">S</text><g transform="translate(97.92,267.60)"><text x="0.00" y="0" font-size="6.7" fill="#1a1a1a">2</text></g>
<text x="123.35" y="361.60" font-size="10.0" fill="#1a1a1a">S</text><g transform="translate(129.52,363.70)"><text x="0.00" y="0" font-size="6.7" fill="#1a1a1a">3</text></g>
<text x="154.45" y="370.40" font-size="10.0" fill="#1a1a1a">S</text><g transform="translate(160.62,372.50)"><text x="0.00" y="0" font-size="6.7" fill="#1a1a1a">4</text></g>
<text x="227.25" y="321.70" font-size="10.0" fill="#1a1a1a">S</text><g transform="translate(233.42,323.80)"><path transform="translate(0.00,0) scale(6.7)" d="M0.283,0 L0.393,0 L0.393,-0.716 L0.322,-0.716 C0.296,-0.662 0.218,-0.588 0.105,-0.545 L0.105,-0.445 C0.176,-0.470 0.246,-0.510 0.283,-0.556 Z" fill="#1a1a1a" stroke="#1a1a1a" stroke-width="0.0328"/></g>
<text x="257.55" y="321.70" font-size="10.0" fill="#1a1a1a">S</text><g transform="translate(263.72,323.80)"><text x="0.00" y="0" font-size="6.7" fill="#1a1a1a">2</text></g>
<text x="255.18" y="366.90" font-size="10.0" fill="#1a1a1a">M</text><g transform="translate(263.01,369.00)"><text x="0.00" y="0" font-size="6.7" fill="#1a1a1a">2</text></g>
<text x="289.35" y="366.50" font-size="10.0" fill="#1a1a1a">S</text><g transform="translate(295.52,368.60)"><text x="0.00" y="0" font-size="6.7" fill="#1a1a1a">3</text></g>
<text x="319.65" y="371.50" font-size="10.0" fill="#1a1a1a">S</text><g transform="translate(325.82,373.60)"><text x="0.00" y="0" font-size="6.7" fill="#1a1a1a">4</text></g>
<text x="393.05" y="332.00" font-size="10.0" fill="#1a1a1a">S</text><g transform="translate(399.22,334.10)"><path transform="translate(0.00,0) scale(6.7)" d="M0.283,0 L0.393,0 L0.393,-0.716 L0.322,-0.716 C0.296,-0.662 0.218,-0.588 0.105,-0.545 L0.105,-0.445 C0.176,-0.470 0.246,-0.510 0.283,-0.556 Z" fill="#1a1a1a" stroke="#1a1a1a" stroke-width="0.0328"/></g>
<text x="438.45" y="336.20" font-size="10.0" fill="#1a1a1a">S</text><g transform="translate(444.62,338.30)"><text x="0.00" y="0" font-size="6.7" fill="#1a1a1a">2</text></g>
<text x="420.98" y="360.30" font-size="10.0" fill="#1a1a1a">M</text><g transform="translate(428.81,362.40)"><text x="0.00" y="0" font-size="6.7" fill="#1a1a1a">2</text></g>
<text x="457.15" y="365.40" font-size="10.0" fill="#1a1a1a">S</text><g transform="translate(463.32,367.50)"><text x="0.00" y="0" font-size="6.7" fill="#1a1a1a">3</text></g>
<text x="487.35" y="369.90" font-size="10.0" fill="#1a1a1a">S</text><g transform="translate(493.52,372.00)"><text x="0.00" y="0" font-size="6.7" fill="#1a1a1a">4</text></g>
<text x="560.15" y="339.40" font-size="10.0" fill="#1a1a1a">S</text><g transform="translate(566.32,341.50)"><path transform="translate(0.00,0) scale(6.7)" d="M0.283,0 L0.393,0 L0.393,-0.716 L0.322,-0.716 C0.296,-0.662 0.218,-0.588 0.105,-0.545 L0.105,-0.445 C0.176,-0.470 0.246,-0.510 0.283,-0.556 Z" fill="#1a1a1a" stroke="#1a1a1a" stroke-width="0.0328"/></g>
<text x="604.95" y="308.50" font-size="10.0" fill="#1a1a1a">S</text><g transform="translate(611.12,310.60)"><text x="0.00" y="0" font-size="6.7" fill="#1a1a1a">2</text></g>
<text x="588.38" y="354.70" font-size="10.0" fill="#1a1a1a">M</text><g transform="translate(596.21,356.80)"><text x="0.00" y="0" font-size="6.7" fill="#1a1a1a">2</text></g>
<text x="622.65" y="362.50" font-size="10.0" fill="#1a1a1a">S</text><g transform="translate(628.82,364.60)"><text x="0.00" y="0" font-size="6.7" fill="#1a1a1a">3</text></g>
<text x="653.85" y="368.20" font-size="10.0" fill="#1a1a1a">S</text><g transform="translate(660.02,370.30)"><text x="0.00" y="0" font-size="6.7" fill="#1a1a1a">4</text></g>
<g transform="translate(165.30,38.90)"><text x="-21.94" y="0" font-size="10.3" fill="#1a1a1a">Tidal</text></g>
<g transform="translate(331.40,38.90)"><text x="-38.36" y="0" font-size="10.3" fill="#1a1a1a">GbPZ67</text></g>
<g transform="translate(498.40,39.00)"><text x="-43.32" y="0" font-size="10.3" fill="#1a1a1a">GbPZ</text><path transform="translate(-16.42,0) scale(10.3)" d="M0.283,0 L0.393,0 L0.393,-0.716 L0.322,-0.716 C0.296,-0.662 0.218,-0.588 0.105,-0.545 L0.105,-0.445 C0.176,-0.470 0.246,-0.510 0.283,-0.556 Z" fill="#1a1a1a" stroke="#1a1a1a" stroke-width="0.0214"/><path transform="translate(-10.69,0) scale(10.3)" d="M0.283,0 L0.393,0 L0.393,-0.716 L0.322,-0.716 C0.296,-0.662 0.218,-0.588 0.105,-0.545 L0.105,-0.445 C0.176,-0.470 0.246,-0.510 0.283,-0.556 Z" fill="#1a1a1a" stroke="#1a1a1a" stroke-width="0.0214"/><text x="-4.96" y="0" font-size="10.3" fill="#1a1a1a">6</text></g>
<g transform="translate(665.50,39.30)"><text x="-44.08" y="0" font-size="10.3" fill="#1a1a1a">GbPZ2</text><path transform="translate(-11.46,0) scale(10.3)" d="M0.283,0 L0.393,0 L0.393,-0.716 L0.322,-0.716 C0.296,-0.662 0.218,-0.588 0.105,-0.545 L0.105,-0.445 C0.176,-0.470 0.246,-0.510 0.283,-0.556 Z" fill="#1a1a1a" stroke="#1a1a1a" stroke-width="0.0214"/><text x="-5.73" y="0" font-size="10.3" fill="#1a1a1a">2</text></g>
<g transform="translate(165.30,253.20)"><text x="-21.76" y="0" font-size="10.3" fill="#1a1a1a">Baro</text></g>
<g transform="translate(331.00,253.50)"><text x="-35.49" y="0" font-size="10.3" fill="#1a1a1a">LkPZ9</text><path transform="translate(-5.73,0) scale(10.3)" d="M0.283,0 L0.393,0 L0.393,-0.716 L0.322,-0.716 C0.296,-0.662 0.218,-0.588 0.105,-0.545 L0.105,-0.445 C0.176,-0.470 0.246,-0.510 0.283,-0.556 Z" fill="#1a1a1a" stroke="#1a1a1a" stroke-width="0.0214"/></g>
<g transform="translate(498.50,253.50)"><text x="-41.22" y="0" font-size="10.3" fill="#1a1a1a">LkPZ</text><path transform="translate(-17.18,0) scale(10.3)" d="M0.283,0 L0.393,0 L0.393,-0.716 L0.322,-0.716 C0.296,-0.662 0.218,-0.588 0.105,-0.545 L0.105,-0.445 C0.176,-0.470 0.246,-0.510 0.283,-0.556 Z" fill="#1a1a1a" stroke="#1a1a1a" stroke-width="0.0214"/><text x="-11.46" y="0" font-size="10.3" fill="#1a1a1a">52</text></g>
<g transform="translate(665.20,253.50)"><text x="-41.22" y="0" font-size="10.3" fill="#1a1a1a">LkPZ244</text></g>
<text transform="translate(43.00,15.90) scale(0.84,1)" font-size="18" font-weight="bold" font-family='"Liberation Sans", sans-serif' fill="#000">a</text>
<text transform="translate(210.20,14.00) scale(1.0,1)" font-size="18" font-weight="bold" font-family='"Liberation Sans", sans-serif' fill="#000">b</text>
<text transform="translate(372.90,14.20) scale(1.0,1)" font-size="18" font-weight="bold" font-family='"Liberation Sans", sans-serif' fill="#000">c</text>
<text transform="translate(538.10,16.00) scale(1.0,1)" font-size="18" font-weight="bold" font-family='"Liberation Sans", sans-serif' fill="#000">d</text>
<text transform="translate(43.60,230.60) scale(1.0,1)" font-size="18" font-weight="bold" font-family='"Liberation Sans", sans-serif' fill="#000">e</text>
<text transform="translate(210.60,228.60) scale(1.0,1)" font-size="18" font-weight="bold" font-family='"Liberation Sans", sans-serif' fill="#000">f</text>
<text transform="translate(373.20,228.00) scale(1.0,1)" font-size="18" font-weight="bold" font-family='"Liberation Serif", serif' fill="#000">g</text>
<text transform="translate(539.20,230.70) scale(1.0,1)" font-size="18" font-weight="bold" font-family='"Liberation Sans", sans-serif' fill="#000">h</text>
<text transform="translate(10.3,99.3) rotate(-90) scale(1,0.94)" text-anchor="middle" font-size="12.5" fill="#1a1a1a" stroke="#1a1a1a" stroke-width="0.25">Amplitude (m)</text>
<text transform="translate(10.3,317.4) rotate(-90) scale(1,0.94)" text-anchor="middle" font-size="12.45" fill="#1a1a1a" stroke="#1a1a1a" stroke-width="0.25">Amplitude (mBar)</text>
<text transform="translate(273.1,205.5) scale(1,0.94)" font-size="11.96" fill="#1a1a1a" stroke="#1a1a1a" stroke-width="0.25">Frequency [cycle per day, cpd]</text>
<text transform="translate(273.3,420.5) scale(1,0.94)" font-size="11.96" fill="#1a1a1a" stroke="#1a1a1a" stroke-width="0.25">Frequency [cycle per day, cpd]</text>
</svg>
</body></html>
